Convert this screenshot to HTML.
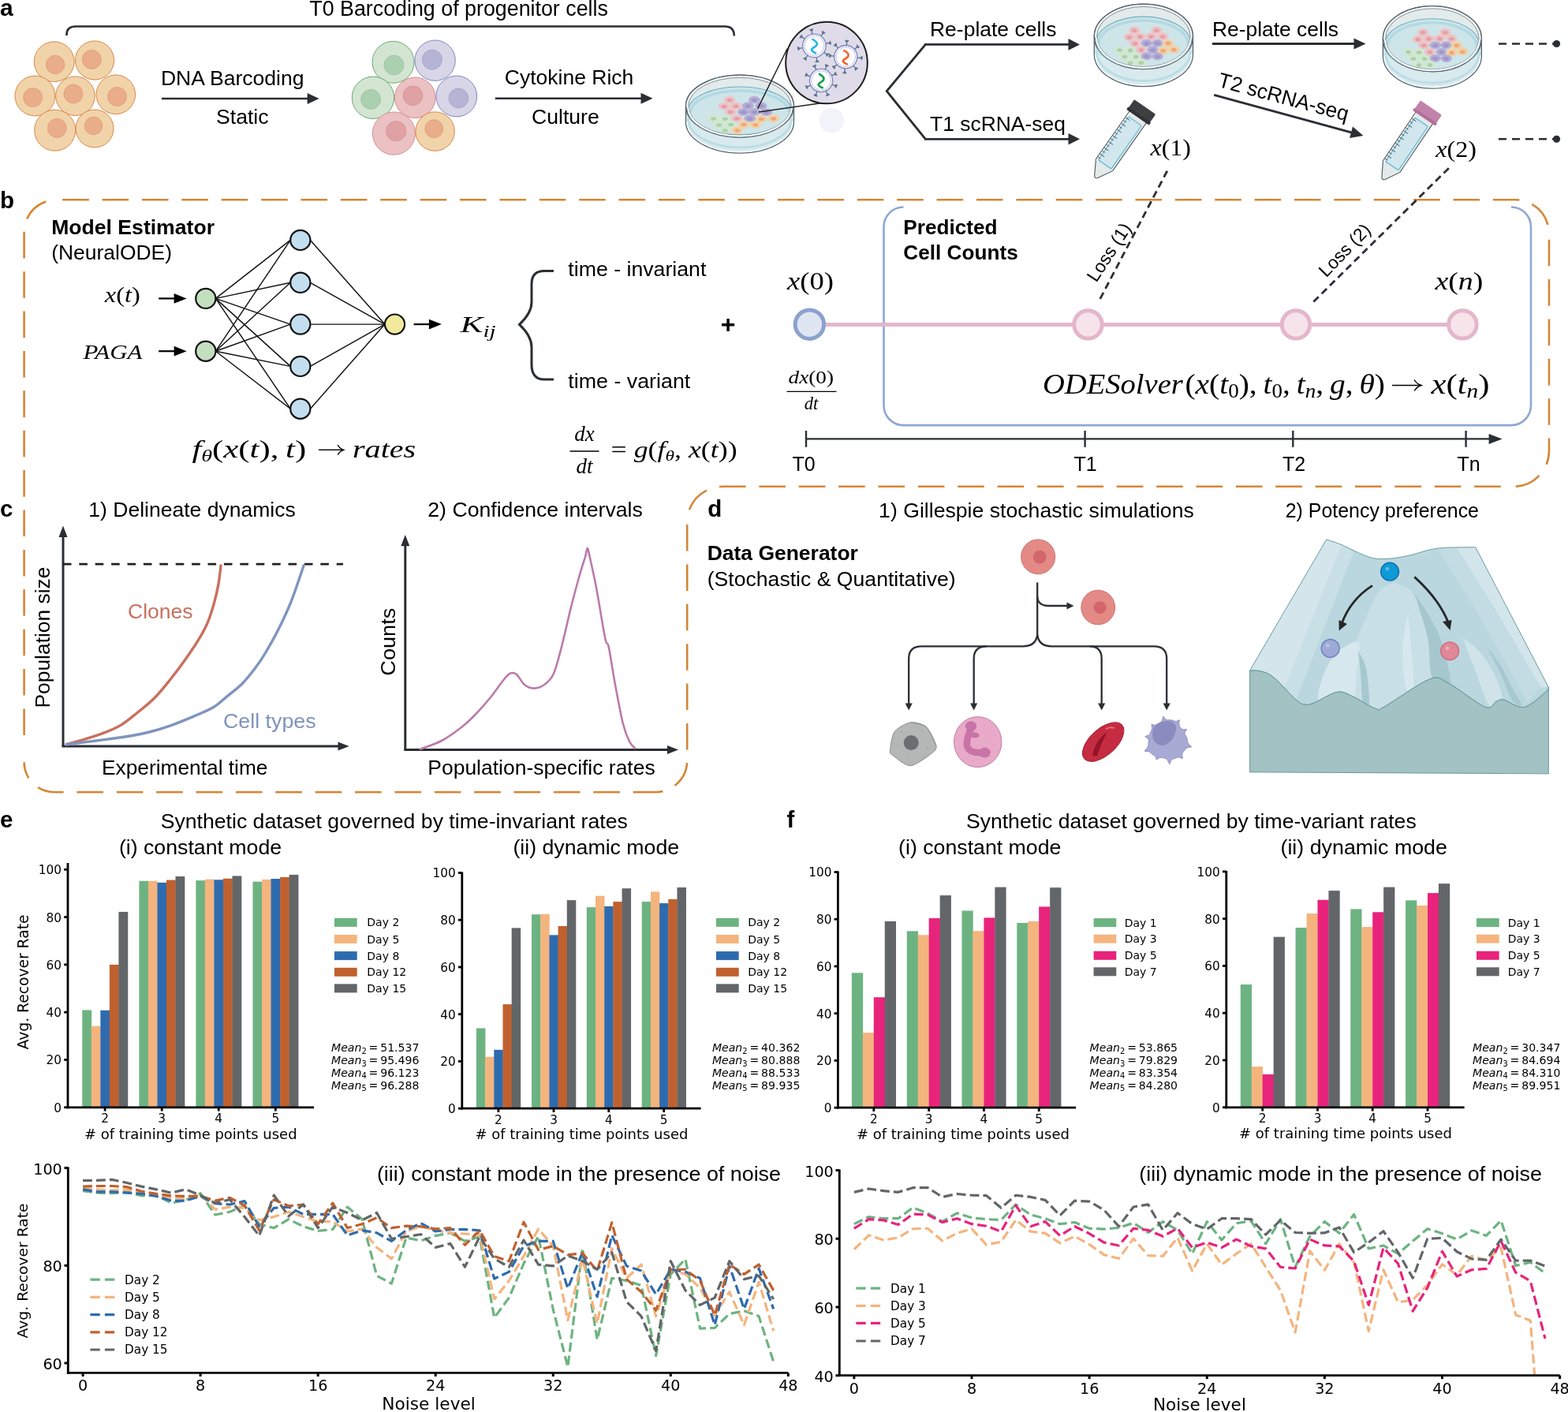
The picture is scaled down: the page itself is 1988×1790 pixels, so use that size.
<!DOCTYPE html>
<html><head><meta charset="utf-8"><title>Figure</title>
<style>html,body{margin:0;padding:0;background:#fff;overflow:hidden}svg{display:block}</style></head>
<body><svg width="1988" height="1790" viewBox="0 0 1988 1790" font-family="'Liberation Sans', Arial, sans-serif">
<rect width="1988" height="1790" fill="#fff"/>
<text x="0" y="19.5" font-size="30" font-weight="bold" >a</text>
<path d="M 84.5 45 L 84.5 44 Q 84.5 33.5 96 33.5 L 919 33.5 Q 930.8 33.5 930.8 45.5" fill="none" stroke="#2b2e33" stroke-width="2.6" />
<text x="392.3" y="20.4" font-size="26.8" textLength="378.6" lengthAdjust="spacingAndGlyphs" >T0 Barcoding of progenitor cells</text>
<circle cx="68.7" cy="78.2" r="25.4" fill="#f1d3aa" stroke="#d7823f" stroke-width="0.95" /><circle cx="70.1" cy="82" r="11.8" fill="#e9ad89" stroke="#e19b78" stroke-width="0.8" />
<circle cx="120" cy="76.5" r="24.6" fill="#f1d3aa" stroke="#d7823f" stroke-width="0.95" /><circle cx="116.4" cy="75.4" r="12" fill="#e9ad89" stroke="#e19b78" stroke-width="0.8" />
<circle cx="44.4" cy="121.5" r="25.4" fill="#f1d3aa" stroke="#d7823f" stroke-width="0.95" /><circle cx="41.6" cy="123.6" r="12" fill="#e9ad89" stroke="#e19b78" stroke-width="0.8" />
<circle cx="95.5" cy="121.7" r="24.8" fill="#f1d3aa" stroke="#d7823f" stroke-width="0.95" /><circle cx="93" cy="119" r="12" fill="#e9ad89" stroke="#e19b78" stroke-width="0.8" />
<circle cx="146.8" cy="119.8" r="24.8" fill="#f1d3aa" stroke="#d7823f" stroke-width="0.95" /><circle cx="148.5" cy="122.5" r="12" fill="#e9ad89" stroke="#e19b78" stroke-width="0.8" />
<circle cx="69.7" cy="165.2" r="26" fill="#f1d3aa" stroke="#d7823f" stroke-width="0.95" /><circle cx="72.3" cy="162.5" r="12" fill="#e9ad89" stroke="#e19b78" stroke-width="0.8" />
<circle cx="120" cy="163" r="24" fill="#f1d3aa" stroke="#d7823f" stroke-width="0.95" /><circle cx="118.5" cy="159.5" r="11.3" fill="#e9ad89" stroke="#e19b78" stroke-width="0.8" />
<text x="203.9" y="108.2" font-size="26.6" textLength="181.7" lengthAdjust="spacingAndGlyphs" >DNA Barcoding</text>
<line x1="205" y1="125" x2="390.6" y2="125" stroke="#2b2e33" stroke-width="2.6" /><polygon points="404.6,125 389.6,118 389.6,132" fill="#2b2e33"/>
<text x="274" y="157.4" font-size="26.6" >Static</text>
<circle cx="498.6" cy="78.8" r="26.5" fill="#d3e5d1" stroke="#5fa76d" stroke-width="0.95" /><circle cx="499.5" cy="82.6" r="12.5" fill="#abd0b0" stroke="#95c4a0" stroke-width="0.8" />
<circle cx="551.6" cy="76.7" r="25.7" fill="#d8d5e7" stroke="#7b80c0" stroke-width="0.95" /><circle cx="547.9" cy="75.6" r="12.6" fill="#b5b4d4" stroke="#a2a2cc" stroke-width="0.8" />
<circle cx="473" cy="123.8" r="26.7" fill="#d3e5d1" stroke="#5fa76d" stroke-width="0.95" /><circle cx="470.1" cy="125.9" r="12.5" fill="#abd0b0" stroke="#95c4a0" stroke-width="0.8" />
<circle cx="526.3" cy="123.8" r="25.8" fill="#ecc1c3" stroke="#d08b8c" stroke-width="0.95" /><circle cx="523.5" cy="121.3" r="12.4" fill="#dfa1a3" stroke="#d39395" stroke-width="0.8" />
<circle cx="578.8" cy="122" r="25.9" fill="#d8d5e7" stroke="#7b80c0" stroke-width="0.95" /><circle cx="581.4" cy="124.5" r="12.4" fill="#b5b4d4" stroke="#a2a2cc" stroke-width="0.8" />
<circle cx="499.4" cy="169.1" r="27.1" fill="#ecc1c3" stroke="#d08b8c" stroke-width="0.95" /><circle cx="502.2" cy="166.1" r="12.7" fill="#dfa1a3" stroke="#d39395" stroke-width="0.8" />
<circle cx="551.6" cy="166.6" r="24.7" fill="#f1d3aa" stroke="#d7823f" stroke-width="0.95" /><circle cx="550.3" cy="163.2" r="11.5" fill="#e9ad89" stroke="#e19b78" stroke-width="0.8" />
<text x="639.8" y="107" font-size="26.6" textLength="163.5" lengthAdjust="spacingAndGlyphs" >Cytokine Rich</text>
<line x1="627.8" y1="124.7" x2="813.5" y2="124.7" stroke="#2b2e33" stroke-width="2.6" /><polygon points="827.5,124.7 812.5,117.7 812.5,131.7" fill="#2b2e33"/>
<text x="674" y="157.4" font-size="26.6" >Culture</text>
<g><path d="M 869.5 134.6 A 68.5 39.5 0 0 1 1006.5 134.6 L 1006.5 154.6 A 68.5 39.5 0 0 1 869.5 154.6 Z" fill="#d8eaed" stroke="#56636c" stroke-width="1.3" /><path d="M 872.5 150.6 A 65.5 36.5 0 0 0 1003.5 150.6" fill="none" stroke="#bcdde6" stroke-width="3" /><path d="M 871 154.6 A 67 38 0 0 0 1005 154.6" fill="none" stroke="#ffffff" stroke-width="1.2" /><ellipse cx="938" cy="134.6" rx="68.5" ry="39.5" fill="#e3eaea" stroke="#56636c" stroke-width="1.3" /><ellipse cx="938" cy="134.6" rx="66.5" ry="37.5" fill="none" stroke="#ffffff" stroke-width="1.6" /><ellipse cx="938" cy="134.6" rx="65.3" ry="36.3" fill="none" stroke="#6a7880" stroke-width="0.8" /><ellipse cx="938" cy="140.5" rx="65.4" ry="30.5" fill="#cde5e9" stroke="#6fb0c6" stroke-width="1.1" /><path d="M 875.6 142.5 A 62.4 27.5 0 0 1 1000.4 142.5" fill="none" stroke="#b4d9e3" stroke-width="3.5" /><ellipse cx="925.02" cy="126.64" rx="7.2" ry="4.4" fill="#efc1c5" stroke="#efc1c5" stroke-width="0.6" /><ellipse cx="925.02" cy="126.94" rx="3.38" ry="2.2" fill="#e2a0a6" stroke="none" stroke-width="1" /><ellipse cx="918.1" cy="134.69" rx="7.2" ry="4.4" fill="#efc1c5" stroke="#efc1c5" stroke-width="0.6" /><ellipse cx="918.1" cy="134.99" rx="3.38" ry="2.2" fill="#e2a0a6" stroke="none" stroke-width="1" /><ellipse cx="932.94" cy="134.44" rx="7.2" ry="4.4" fill="#efc1c5" stroke="#efc1c5" stroke-width="0.6" /><ellipse cx="932.94" cy="134.74" rx="3.38" ry="2.2" fill="#e2a0a6" stroke="none" stroke-width="1" /><ellipse cx="926.27" cy="141.73" rx="7.2" ry="4.4" fill="#efc1c5" stroke="#efc1c5" stroke-width="0.6" /><ellipse cx="926.27" cy="142.03" rx="3.38" ry="2.2" fill="#e2a0a6" stroke="none" stroke-width="1" /><ellipse cx="934.45" cy="150.16" rx="7.2" ry="4.4" fill="#efc1c5" stroke="#efc1c5" stroke-width="0.6" /><ellipse cx="934.45" cy="150.46" rx="3.38" ry="2.2" fill="#e2a0a6" stroke="none" stroke-width="1" /><ellipse cx="956.45" cy="126.64" rx="7.2" ry="4.4" fill="#b5acd5" stroke="#b5acd5" stroke-width="0.6" /><ellipse cx="956.45" cy="126.94" rx="3.38" ry="2.2" fill="#9f97c8" stroke="none" stroke-width="1" /><ellipse cx="948.28" cy="134.19" rx="7.2" ry="4.4" fill="#b5acd5" stroke="#b5acd5" stroke-width="0.6" /><ellipse cx="948.28" cy="134.49" rx="3.38" ry="2.2" fill="#9f97c8" stroke="none" stroke-width="1" /><ellipse cx="965.01" cy="134.19" rx="7.2" ry="4.4" fill="#b5acd5" stroke="#b5acd5" stroke-width="0.6" /><ellipse cx="965.01" cy="134.49" rx="3.38" ry="2.2" fill="#9f97c8" stroke="none" stroke-width="1" /><ellipse cx="942.62" cy="141.98" rx="7.2" ry="4.4" fill="#b5acd5" stroke="#b5acd5" stroke-width="0.6" /><ellipse cx="942.62" cy="142.28" rx="3.38" ry="2.2" fill="#9f97c8" stroke="none" stroke-width="1" /><ellipse cx="956.45" cy="141.98" rx="7.2" ry="4.4" fill="#b5acd5" stroke="#b5acd5" stroke-width="0.6" /><ellipse cx="956.45" cy="142.28" rx="3.38" ry="2.2" fill="#9f97c8" stroke="none" stroke-width="1" /><ellipse cx="971.54" cy="142.23" rx="7.2" ry="4.4" fill="#b5acd5" stroke="#b5acd5" stroke-width="0.6" /><ellipse cx="971.54" cy="142.53" rx="3.38" ry="2.2" fill="#9f97c8" stroke="none" stroke-width="1" /><ellipse cx="950.79" cy="150.16" rx="7.2" ry="4.4" fill="#b5acd5" stroke="#b5acd5" stroke-width="0.6" /><ellipse cx="950.79" cy="150.46" rx="3.38" ry="2.2" fill="#9f97c8" stroke="none" stroke-width="1" /><ellipse cx="904.64" cy="150.16" rx="7.2" ry="4.4" fill="#d2e7d0" stroke="#d2e7d0" stroke-width="0.6" /><ellipse cx="904.64" cy="150.46" rx="3.38" ry="2.2" fill="#a8d2aa" stroke="none" stroke-width="1" /><ellipse cx="919.36" cy="150.53" rx="7.2" ry="4.4" fill="#d2e7d0" stroke="#d2e7d0" stroke-width="0.6" /><ellipse cx="919.36" cy="150.83" rx="3.38" ry="2.2" fill="#a8d2aa" stroke="none" stroke-width="1" /><ellipse cx="911.56" cy="158.08" rx="7.2" ry="4.4" fill="#d2e7d0" stroke="#d2e7d0" stroke-width="0.6" /><ellipse cx="911.56" cy="158.38" rx="3.38" ry="2.2" fill="#a8d2aa" stroke="none" stroke-width="1" /><ellipse cx="926.65" cy="157.7" rx="7.2" ry="4.4" fill="#d2e7d0" stroke="#d2e7d0" stroke-width="0.6" /><ellipse cx="926.65" cy="158" rx="3.38" ry="2.2" fill="#a8d2aa" stroke="none" stroke-width="1" /><ellipse cx="919.36" cy="165.25" rx="7.2" ry="4.4" fill="#d2e7d0" stroke="#d2e7d0" stroke-width="0.6" /><ellipse cx="919.36" cy="165.55" rx="3.38" ry="2.2" fill="#a8d2aa" stroke="none" stroke-width="1" /><ellipse cx="965.38" cy="150.78" rx="7.2" ry="4.4" fill="#f4d0a2" stroke="#f4d0a2" stroke-width="0.6" /><ellipse cx="965.38" cy="151.08" rx="3.38" ry="2.2" fill="#eda77e" stroke="none" stroke-width="1" /><ellipse cx="980.72" cy="150.16" rx="7.2" ry="4.4" fill="#f4d0a2" stroke="#f4d0a2" stroke-width="0.6" /><ellipse cx="980.72" cy="150.46" rx="3.38" ry="2.2" fill="#eda77e" stroke="none" stroke-width="1" /><ellipse cx="943" cy="157.7" rx="7.2" ry="4.4" fill="#f4d0a2" stroke="#f4d0a2" stroke-width="0.6" /><ellipse cx="943" cy="158" rx="3.38" ry="2.2" fill="#eda77e" stroke="none" stroke-width="1" /><ellipse cx="957.71" cy="158.08" rx="7.2" ry="4.4" fill="#f4d0a2" stroke="#f4d0a2" stroke-width="0.6" /><ellipse cx="957.71" cy="158.38" rx="3.38" ry="2.2" fill="#eda77e" stroke="none" stroke-width="1" /><ellipse cx="934.82" cy="165.25" rx="7.2" ry="4.4" fill="#f4d0a2" stroke="#f4d0a2" stroke-width="0.6" /><ellipse cx="934.82" cy="165.55" rx="3.38" ry="2.2" fill="#eda77e" stroke="none" stroke-width="1" /><path d="M 872 135.6 A 66 37 0 0 0 1004 135.6" fill="none" stroke="#ffffff" stroke-width="2.6" /><path d="M 870.5 135.6 A 67.5 38.5 0 0 0 1005.5 135.6" fill="none" stroke="#5d6b74" stroke-width="0.9" /><path d="M 873.5 135.6 A 64.5 35.5 0 0 0 1002.5 135.6" fill="none" stroke="#7d8f98" stroke-width="0.7" /></g>
<circle cx="1054.3" cy="152.7" r="15.7" fill="#f2f3f9" stroke="none" stroke-width="1" />
<line x1="998.3" y1="61.5" x2="960.6" y2="137.6" stroke="#222" stroke-width="1.5" />
<line x1="1046.1" y1="130" x2="961.9" y2="142" stroke="#222" stroke-width="1.5" />
<circle cx="1048" cy="79.5" r="51.8" fill="#e0dbe9" stroke="#1d1d1d" stroke-width="2" />
<line x1="1029.76" y1="43.34" x2="1029.19" y2="40.19" stroke="#56708f" stroke-width="1.3" /><polygon points="1029.19,40.19 1030.9,36.73 1026.38,37.55" fill="#56708f" stroke="#56708f" stroke-width="0.8" stroke-linejoin="round"/><line x1="1040.83" y1="45.74" x2="1042.66" y2="43.11" stroke="#56708f" stroke-width="1.3" /><polygon points="1042.66,43.11 1046.31,41.87 1042.53,39.25" fill="#56708f" stroke="#56708f" stroke-width="0.8" stroke-linejoin="round"/><line x1="1046.96" y1="55.26" x2="1050.11" y2="54.69" stroke="#56708f" stroke-width="1.3" /><polygon points="1050.11,54.69 1053.57,56.4 1052.75,51.88" fill="#56708f" stroke="#56708f" stroke-width="0.8" stroke-linejoin="round"/><line x1="1044.56" y1="66.33" x2="1047.19" y2="68.16" stroke="#56708f" stroke-width="1.3" /><polygon points="1047.19,68.16 1048.43,71.81 1051.05,68.03" fill="#56708f" stroke="#56708f" stroke-width="0.8" stroke-linejoin="round"/><line x1="1035.04" y1="72.46" x2="1035.61" y2="75.61" stroke="#56708f" stroke-width="1.3" /><polygon points="1035.61,75.61 1033.9,79.07 1038.42,78.25" fill="#56708f" stroke="#56708f" stroke-width="0.8" stroke-linejoin="round"/><line x1="1023.97" y1="70.06" x2="1022.14" y2="72.69" stroke="#56708f" stroke-width="1.3" /><polygon points="1022.14,72.69 1018.49,73.93 1022.27,76.55" fill="#56708f" stroke="#56708f" stroke-width="0.8" stroke-linejoin="round"/><line x1="1017.84" y1="60.54" x2="1014.69" y2="61.11" stroke="#56708f" stroke-width="1.3" /><polygon points="1014.69,61.11 1011.23,59.4 1012.05,63.92" fill="#56708f" stroke="#56708f" stroke-width="0.8" stroke-linejoin="round"/><line x1="1020.24" y1="49.47" x2="1017.61" y2="47.64" stroke="#56708f" stroke-width="1.3" /><polygon points="1017.61,47.64 1016.37,43.99 1013.75,47.77" fill="#56708f" stroke="#56708f" stroke-width="0.8" stroke-linejoin="round"/><circle cx="1032.4" cy="57.9" r="14.8" fill="#ffffff" stroke="#7c83bf" stroke-width="1.3" /><circle cx="1032.4" cy="57.9" r="12.4" fill="none" stroke="#8189c4" stroke-width="0.9" stroke-dasharray="1.6 1"/><path d="M -3 -8.5 C 1 -6.5 4.2 -4 3.2 -1 C 2.2 2 -4.8 3 -3.2 6 C -2.2 8 1 9 2.6 9.8" transform="translate(1032.4 57.9)" fill="none" stroke="#29b6e8" stroke-width="2.7" stroke-linecap="butt"/>
<line x1="1073.33" y1="57.54" x2="1073.56" y2="54.34" stroke="#56708f" stroke-width="1.3" /><polygon points="1073.56,54.34 1076.07,51.42 1071.48,51.09" fill="#56708f" stroke="#56708f" stroke-width="0.8" stroke-linejoin="round"/><line x1="1083.33" y1="62.53" x2="1085.75" y2="60.44" stroke="#56708f" stroke-width="1.3" /><polygon points="1085.75,60.44 1089.59,60.14 1086.58,56.67" fill="#56708f" stroke="#56708f" stroke-width="0.8" stroke-linejoin="round"/><line x1="1086.86" y1="73.13" x2="1090.06" y2="73.36" stroke="#56708f" stroke-width="1.3" /><polygon points="1090.06,73.36 1092.98,75.87 1093.31,71.28" fill="#56708f" stroke="#56708f" stroke-width="0.8" stroke-linejoin="round"/><line x1="1081.87" y1="83.13" x2="1083.96" y2="85.55" stroke="#56708f" stroke-width="1.3" /><polygon points="1083.96,85.55 1084.26,89.39 1087.73,86.38" fill="#56708f" stroke="#56708f" stroke-width="0.8" stroke-linejoin="round"/><line x1="1071.27" y1="86.66" x2="1071.04" y2="89.86" stroke="#56708f" stroke-width="1.3" /><polygon points="1071.04,89.86 1068.53,92.78 1073.12,93.11" fill="#56708f" stroke="#56708f" stroke-width="0.8" stroke-linejoin="round"/><line x1="1061.27" y1="81.67" x2="1058.85" y2="83.76" stroke="#56708f" stroke-width="1.3" /><polygon points="1058.85,83.76 1055.01,84.06 1058.02,87.53" fill="#56708f" stroke="#56708f" stroke-width="0.8" stroke-linejoin="round"/><line x1="1057.74" y1="71.07" x2="1054.54" y2="70.84" stroke="#56708f" stroke-width="1.3" /><polygon points="1054.54,70.84 1051.62,68.33 1051.29,72.92" fill="#56708f" stroke="#56708f" stroke-width="0.8" stroke-linejoin="round"/><line x1="1062.73" y1="61.07" x2="1060.64" y2="58.65" stroke="#56708f" stroke-width="1.3" /><polygon points="1060.64,58.65 1060.34,54.81 1056.87,57.82" fill="#56708f" stroke="#56708f" stroke-width="0.8" stroke-linejoin="round"/><circle cx="1072.3" cy="72.1" r="14.6" fill="#ffffff" stroke="#7c83bf" stroke-width="1.3" /><circle cx="1072.3" cy="72.1" r="12.2" fill="none" stroke="#8189c4" stroke-width="0.9" stroke-dasharray="1.6 1"/><path d="M -3 -8.5 C 1 -6.5 4.2 -4 3.2 -1 C 2.2 2 -4.8 3 -3.2 6 C -2.2 8 1 9 2.6 9.8" transform="translate(1072.3 72.1)" fill="none" stroke="#f0642a" stroke-width="2.7" stroke-linecap="butt"/>
<line x1="1035.02" y1="88.72" x2="1033.69" y2="85.81" stroke="#56708f" stroke-width="1.3" /><polygon points="1033.69,85.81 1034.49,82.04 1030.31,83.95" fill="#56708f" stroke="#56708f" stroke-width="0.8" stroke-linejoin="round"/><line x1="1046.19" y1="88.32" x2="1047.31" y2="85.32" stroke="#56708f" stroke-width="1.3" /><polygon points="1047.31,85.32 1050.54,83.21 1046.23,81.61" fill="#56708f" stroke="#56708f" stroke-width="0.8" stroke-linejoin="round"/><line x1="1054.38" y1="95.92" x2="1057.29" y2="94.59" stroke="#56708f" stroke-width="1.3" /><polygon points="1057.29,94.59 1061.06,95.39 1059.15,91.21" fill="#56708f" stroke="#56708f" stroke-width="0.8" stroke-linejoin="round"/><line x1="1054.78" y1="107.09" x2="1057.78" y2="108.21" stroke="#56708f" stroke-width="1.3" /><polygon points="1057.78,108.21 1059.89,111.44 1061.49,107.13" fill="#56708f" stroke="#56708f" stroke-width="0.8" stroke-linejoin="round"/><line x1="1047.18" y1="115.28" x2="1048.51" y2="118.19" stroke="#56708f" stroke-width="1.3" /><polygon points="1048.51,118.19 1047.71,121.96 1051.89,120.05" fill="#56708f" stroke="#56708f" stroke-width="0.8" stroke-linejoin="round"/><line x1="1036.01" y1="115.68" x2="1034.89" y2="118.68" stroke="#56708f" stroke-width="1.3" /><polygon points="1034.89,118.68 1031.66,120.79 1035.97,122.39" fill="#56708f" stroke="#56708f" stroke-width="0.8" stroke-linejoin="round"/><line x1="1027.82" y1="108.08" x2="1024.91" y2="109.41" stroke="#56708f" stroke-width="1.3" /><polygon points="1024.91,109.41 1021.14,108.61 1023.05,112.79" fill="#56708f" stroke="#56708f" stroke-width="0.8" stroke-linejoin="round"/><line x1="1027.42" y1="96.91" x2="1024.42" y2="95.79" stroke="#56708f" stroke-width="1.3" /><polygon points="1024.42,95.79 1022.31,92.56 1020.71,96.87" fill="#56708f" stroke="#56708f" stroke-width="0.8" stroke-linejoin="round"/><circle cx="1041.1" cy="102" r="14.6" fill="#ffffff" stroke="#7c83bf" stroke-width="1.3" /><circle cx="1041.1" cy="102" r="12.2" fill="none" stroke="#8189c4" stroke-width="0.9" stroke-dasharray="1.6 1"/><path d="M -3 -8.5 C 1 -6.5 4.2 -4 3.2 -1 C 2.2 2 -4.8 3 -3.2 6 C -2.2 8 1 9 2.6 9.8" transform="translate(1041.1 102)" fill="none" stroke="#139f4f" stroke-width="2.7" stroke-linecap="butt"/>
<path d="M 1173.4 56.4 L 1124.2 115.5 L 1173.4 176.3" fill="none" stroke="#2b2e33" stroke-width="2.8" stroke-linejoin="miter"/>
<line x1="1172" y1="56.4" x2="1355.5" y2="56.4" stroke="#2b2e33" stroke-width="2.8" /><polygon points="1369,56.4 1354.5,49.1 1354.5,63.7" fill="#2b2e33"/>
<line x1="1172" y1="176.3" x2="1355.5" y2="176.3" stroke="#2b2e33" stroke-width="2.8" /><polygon points="1369,176.3 1354.5,169 1354.5,183.6" fill="#2b2e33"/>
<text x="1179" y="45.8" font-size="26.5" textLength="160.4" lengthAdjust="spacingAndGlyphs" >Re-plate cells</text>
<text x="1179" y="166" font-size="26.5" textLength="171.9" lengthAdjust="spacingAndGlyphs" >T1 scRNA-seq</text>
<g><path d="M 1387.3 46.4 A 62.6 41.2 0 0 1 1512.5 46.4 L 1512.5 68.4 A 62.6 41.2 0 0 1 1387.3 68.4 Z" fill="#d8eaed" stroke="#56636c" stroke-width="1.3" /><path d="M 1390.3 64.4 A 59.6 38.2 0 0 0 1509.5 64.4" fill="none" stroke="#bcdde6" stroke-width="3" /><path d="M 1388.8 68.4 A 61.1 39.7 0 0 0 1511 68.4" fill="none" stroke="#ffffff" stroke-width="1.2" /><ellipse cx="1449.9" cy="46.4" rx="62.6" ry="41.2" fill="#e3eaea" stroke="#56636c" stroke-width="1.3" /><ellipse cx="1449.9" cy="46.4" rx="60.6" ry="39.2" fill="none" stroke="#ffffff" stroke-width="1.6" /><ellipse cx="1449.9" cy="46.4" rx="59.4" ry="38" fill="none" stroke="#6a7880" stroke-width="0.8" /><ellipse cx="1449.6" cy="53.8" rx="59.5" ry="32.7" fill="#cde5e9" stroke="#6fb0c6" stroke-width="1.1" /><path d="M 1393.1 55.8 A 56.5 29.7 0 0 1 1506.1 55.8" fill="none" stroke="#b4d9e3" stroke-width="3.5" /><ellipse cx="1438.01" cy="38.47" rx="6.9" ry="4.6" fill="#efc1c5" stroke="#efc1c5" stroke-width="0.6" /><ellipse cx="1438.01" cy="38.77" rx="3.24" ry="2.3" fill="#e2a0a6" stroke="none" stroke-width="1" /><ellipse cx="1466.34" cy="38.47" rx="6.9" ry="4.6" fill="#efc1c5" stroke="#efc1c5" stroke-width="0.6" /><ellipse cx="1466.34" cy="38.77" rx="3.24" ry="2.3" fill="#e2a0a6" stroke="none" stroke-width="1" /><ellipse cx="1431.73" cy="47.08" rx="6.9" ry="4.6" fill="#efc1c5" stroke="#efc1c5" stroke-width="0.6" /><ellipse cx="1431.73" cy="47.38" rx="3.24" ry="2.3" fill="#e2a0a6" stroke="none" stroke-width="1" /><ellipse cx="1445.49" cy="46.52" rx="6.9" ry="4.6" fill="#efc1c5" stroke="#efc1c5" stroke-width="0.6" /><ellipse cx="1445.49" cy="46.82" rx="3.24" ry="2.3" fill="#e2a0a6" stroke="none" stroke-width="1" /><ellipse cx="1459.34" cy="46.28" rx="6.9" ry="4.6" fill="#efc1c5" stroke="#efc1c5" stroke-width="0.6" /><ellipse cx="1459.34" cy="46.58" rx="3.24" ry="2.3" fill="#e2a0a6" stroke="none" stroke-width="1" /><ellipse cx="1474.23" cy="46.28" rx="6.9" ry="4.6" fill="#efc1c5" stroke="#efc1c5" stroke-width="0.6" /><ellipse cx="1474.23" cy="46.58" rx="3.24" ry="2.3" fill="#e2a0a6" stroke="none" stroke-width="1" /><ellipse cx="1439.22" cy="54.89" rx="6.9" ry="4.6" fill="#efc1c5" stroke="#efc1c5" stroke-width="0.6" /><ellipse cx="1439.22" cy="55.19" rx="3.24" ry="2.3" fill="#e2a0a6" stroke="none" stroke-width="1" /><ellipse cx="1453.7" cy="54.73" rx="6.9" ry="4.6" fill="#b5acd5" stroke="#b5acd5" stroke-width="0.6" /><ellipse cx="1453.7" cy="55.03" rx="3.24" ry="2.3" fill="#9f97c8" stroke="none" stroke-width="1" /><ellipse cx="1467.38" cy="54.73" rx="6.9" ry="4.6" fill="#b5acd5" stroke="#b5acd5" stroke-width="0.6" /><ellipse cx="1467.38" cy="55.03" rx="3.24" ry="2.3" fill="#9f97c8" stroke="none" stroke-width="1" /><ellipse cx="1480.91" cy="54.73" rx="6.9" ry="4.6" fill="#f4d0a2" stroke="#f4d0a2" stroke-width="0.6" /><ellipse cx="1480.91" cy="55.03" rx="3.24" ry="2.3" fill="#eda77e" stroke="none" stroke-width="1" /><ellipse cx="1419.66" cy="63.18" rx="6.9" ry="4.6" fill="#d2e7d0" stroke="#d2e7d0" stroke-width="0.6" /><ellipse cx="1419.66" cy="63.48" rx="3.24" ry="2.3" fill="#a8d2aa" stroke="none" stroke-width="1" /><ellipse cx="1433.18" cy="63.58" rx="6.9" ry="4.6" fill="#d2e7d0" stroke="#d2e7d0" stroke-width="0.6" /><ellipse cx="1433.18" cy="63.88" rx="3.24" ry="2.3" fill="#a8d2aa" stroke="none" stroke-width="1" /><ellipse cx="1446.86" cy="63.18" rx="6.9" ry="4.6" fill="#efc1c5" stroke="#efc1c5" stroke-width="0.6" /><ellipse cx="1446.86" cy="63.48" rx="3.24" ry="2.3" fill="#e2a0a6" stroke="none" stroke-width="1" /><ellipse cx="1461.75" cy="63.18" rx="6.9" ry="4.6" fill="#b5acd5" stroke="#b5acd5" stroke-width="0.6" /><ellipse cx="1461.75" cy="63.48" rx="3.24" ry="2.3" fill="#9f97c8" stroke="none" stroke-width="1" /><ellipse cx="1474.63" cy="63.98" rx="6.9" ry="4.6" fill="#f4d0a2" stroke="#f4d0a2" stroke-width="0.6" /><ellipse cx="1474.63" cy="64.28" rx="3.24" ry="2.3" fill="#eda77e" stroke="none" stroke-width="1" /><ellipse cx="1488.31" cy="62.78" rx="6.9" ry="4.6" fill="#f4d0a2" stroke="#f4d0a2" stroke-width="0.6" /><ellipse cx="1488.31" cy="63.08" rx="3.24" ry="2.3" fill="#eda77e" stroke="none" stroke-width="1" /><ellipse cx="1425.94" cy="71.63" rx="6.9" ry="4.6" fill="#d2e7d0" stroke="#d2e7d0" stroke-width="0.6" /><ellipse cx="1425.94" cy="71.93" rx="3.24" ry="2.3" fill="#a8d2aa" stroke="none" stroke-width="1" /><ellipse cx="1440.26" cy="71.63" rx="6.9" ry="4.6" fill="#d2e7d0" stroke="#d2e7d0" stroke-width="0.6" /><ellipse cx="1440.26" cy="71.93" rx="3.24" ry="2.3" fill="#a8d2aa" stroke="none" stroke-width="1" /><ellipse cx="1453.7" cy="71.23" rx="6.9" ry="4.6" fill="#b5acd5" stroke="#b5acd5" stroke-width="0.6" /><ellipse cx="1453.7" cy="71.53" rx="3.24" ry="2.3" fill="#9f97c8" stroke="none" stroke-width="1" /><ellipse cx="1467.63" cy="71.47" rx="6.9" ry="4.6" fill="#b5acd5" stroke="#b5acd5" stroke-width="0.6" /><ellipse cx="1467.63" cy="71.77" rx="3.24" ry="2.3" fill="#9f97c8" stroke="none" stroke-width="1" /><ellipse cx="1433.02" cy="79.68" rx="6.9" ry="4.6" fill="#d2e7d0" stroke="#d2e7d0" stroke-width="0.6" /><ellipse cx="1433.02" cy="79.98" rx="3.24" ry="2.3" fill="#a8d2aa" stroke="none" stroke-width="1" /><ellipse cx="1446.86" cy="79.28" rx="6.9" ry="4.6" fill="#d2e7d0" stroke="#d2e7d0" stroke-width="0.6" /><ellipse cx="1446.86" cy="79.58" rx="3.24" ry="2.3" fill="#a8d2aa" stroke="none" stroke-width="1" /><path d="M 1389.8 47.4 A 60.1 38.7 0 0 0 1510 47.4" fill="none" stroke="#ffffff" stroke-width="2.6" /><path d="M 1388.3 47.4 A 61.6 40.2 0 0 0 1511.5 47.4" fill="none" stroke="#5d6b74" stroke-width="0.9" /><path d="M 1391.3 47.4 A 58.6 37.2 0 0 0 1508.5 47.4" fill="none" stroke="#7d8f98" stroke-width="0.7" /></g>
<g><path d="M 1753.4 49.2 A 62.5 41.6 0 0 1 1878.4 49.2 L 1878.4 70.6 A 62.5 41.6 0 0 1 1753.4 70.6 Z" fill="#d8eaed" stroke="#56636c" stroke-width="1.3" /><path d="M 1756.4 66.6 A 59.5 38.6 0 0 0 1875.4 66.6" fill="none" stroke="#bcdde6" stroke-width="3" /><path d="M 1754.9 70.6 A 61 40.1 0 0 0 1876.9 70.6" fill="none" stroke="#ffffff" stroke-width="1.2" /><ellipse cx="1815.9" cy="49.2" rx="62.5" ry="41.6" fill="#e3eaea" stroke="#56636c" stroke-width="1.3" /><ellipse cx="1815.9" cy="49.2" rx="60.5" ry="39.6" fill="none" stroke="#ffffff" stroke-width="1.6" /><ellipse cx="1815.9" cy="49.2" rx="59.3" ry="38.4" fill="none" stroke="#6a7880" stroke-width="0.8" /><ellipse cx="1815.6" cy="56.4" rx="59.5" ry="32.7" fill="#cde5e9" stroke="#6fb0c6" stroke-width="1.1" /><path d="M 1759.1 58.4 A 56.5 29.7 0 0 1 1872.1 58.4" fill="none" stroke="#b4d9e3" stroke-width="3.5" /><ellipse cx="1804.01" cy="41.07" rx="6.9" ry="4.6" fill="#efc1c5" stroke="#efc1c5" stroke-width="0.6" /><ellipse cx="1804.01" cy="41.37" rx="3.24" ry="2.3" fill="#e2a0a6" stroke="none" stroke-width="1" /><ellipse cx="1832.34" cy="41.07" rx="6.9" ry="4.6" fill="#efc1c5" stroke="#efc1c5" stroke-width="0.6" /><ellipse cx="1832.34" cy="41.37" rx="3.24" ry="2.3" fill="#e2a0a6" stroke="none" stroke-width="1" /><ellipse cx="1797.73" cy="49.68" rx="6.9" ry="4.6" fill="#efc1c5" stroke="#efc1c5" stroke-width="0.6" /><ellipse cx="1797.73" cy="49.98" rx="3.24" ry="2.3" fill="#e2a0a6" stroke="none" stroke-width="1" /><ellipse cx="1811.49" cy="49.12" rx="6.9" ry="4.6" fill="#efc1c5" stroke="#efc1c5" stroke-width="0.6" /><ellipse cx="1811.49" cy="49.42" rx="3.24" ry="2.3" fill="#e2a0a6" stroke="none" stroke-width="1" /><ellipse cx="1825.34" cy="48.88" rx="6.9" ry="4.6" fill="#efc1c5" stroke="#efc1c5" stroke-width="0.6" /><ellipse cx="1825.34" cy="49.18" rx="3.24" ry="2.3" fill="#e2a0a6" stroke="none" stroke-width="1" /><ellipse cx="1840.23" cy="48.88" rx="6.9" ry="4.6" fill="#efc1c5" stroke="#efc1c5" stroke-width="0.6" /><ellipse cx="1840.23" cy="49.18" rx="3.24" ry="2.3" fill="#e2a0a6" stroke="none" stroke-width="1" /><ellipse cx="1805.22" cy="57.49" rx="6.9" ry="4.6" fill="#efc1c5" stroke="#efc1c5" stroke-width="0.6" /><ellipse cx="1805.22" cy="57.79" rx="3.24" ry="2.3" fill="#e2a0a6" stroke="none" stroke-width="1" /><ellipse cx="1819.7" cy="57.33" rx="6.9" ry="4.6" fill="#b5acd5" stroke="#b5acd5" stroke-width="0.6" /><ellipse cx="1819.7" cy="57.63" rx="3.24" ry="2.3" fill="#9f97c8" stroke="none" stroke-width="1" /><ellipse cx="1833.38" cy="57.33" rx="6.9" ry="4.6" fill="#b5acd5" stroke="#b5acd5" stroke-width="0.6" /><ellipse cx="1833.38" cy="57.63" rx="3.24" ry="2.3" fill="#9f97c8" stroke="none" stroke-width="1" /><ellipse cx="1846.91" cy="57.33" rx="6.9" ry="4.6" fill="#f4d0a2" stroke="#f4d0a2" stroke-width="0.6" /><ellipse cx="1846.91" cy="57.63" rx="3.24" ry="2.3" fill="#eda77e" stroke="none" stroke-width="1" /><ellipse cx="1785.66" cy="65.78" rx="6.9" ry="4.6" fill="#d2e7d0" stroke="#d2e7d0" stroke-width="0.6" /><ellipse cx="1785.66" cy="66.08" rx="3.24" ry="2.3" fill="#a8d2aa" stroke="none" stroke-width="1" /><ellipse cx="1799.18" cy="66.18" rx="6.9" ry="4.6" fill="#d2e7d0" stroke="#d2e7d0" stroke-width="0.6" /><ellipse cx="1799.18" cy="66.48" rx="3.24" ry="2.3" fill="#a8d2aa" stroke="none" stroke-width="1" /><ellipse cx="1812.86" cy="65.78" rx="6.9" ry="4.6" fill="#efc1c5" stroke="#efc1c5" stroke-width="0.6" /><ellipse cx="1812.86" cy="66.08" rx="3.24" ry="2.3" fill="#e2a0a6" stroke="none" stroke-width="1" /><ellipse cx="1827.75" cy="65.78" rx="6.9" ry="4.6" fill="#b5acd5" stroke="#b5acd5" stroke-width="0.6" /><ellipse cx="1827.75" cy="66.08" rx="3.24" ry="2.3" fill="#9f97c8" stroke="none" stroke-width="1" /><ellipse cx="1840.63" cy="66.58" rx="6.9" ry="4.6" fill="#f4d0a2" stroke="#f4d0a2" stroke-width="0.6" /><ellipse cx="1840.63" cy="66.88" rx="3.24" ry="2.3" fill="#eda77e" stroke="none" stroke-width="1" /><ellipse cx="1854.31" cy="65.38" rx="6.9" ry="4.6" fill="#f4d0a2" stroke="#f4d0a2" stroke-width="0.6" /><ellipse cx="1854.31" cy="65.68" rx="3.24" ry="2.3" fill="#eda77e" stroke="none" stroke-width="1" /><ellipse cx="1791.94" cy="74.23" rx="6.9" ry="4.6" fill="#d2e7d0" stroke="#d2e7d0" stroke-width="0.6" /><ellipse cx="1791.94" cy="74.53" rx="3.24" ry="2.3" fill="#a8d2aa" stroke="none" stroke-width="1" /><ellipse cx="1806.26" cy="74.23" rx="6.9" ry="4.6" fill="#d2e7d0" stroke="#d2e7d0" stroke-width="0.6" /><ellipse cx="1806.26" cy="74.53" rx="3.24" ry="2.3" fill="#a8d2aa" stroke="none" stroke-width="1" /><ellipse cx="1819.7" cy="73.83" rx="6.9" ry="4.6" fill="#b5acd5" stroke="#b5acd5" stroke-width="0.6" /><ellipse cx="1819.7" cy="74.13" rx="3.24" ry="2.3" fill="#9f97c8" stroke="none" stroke-width="1" /><ellipse cx="1833.63" cy="74.07" rx="6.9" ry="4.6" fill="#b5acd5" stroke="#b5acd5" stroke-width="0.6" /><ellipse cx="1833.63" cy="74.37" rx="3.24" ry="2.3" fill="#9f97c8" stroke="none" stroke-width="1" /><ellipse cx="1799.02" cy="82.28" rx="6.9" ry="4.6" fill="#d2e7d0" stroke="#d2e7d0" stroke-width="0.6" /><ellipse cx="1799.02" cy="82.58" rx="3.24" ry="2.3" fill="#a8d2aa" stroke="none" stroke-width="1" /><ellipse cx="1812.86" cy="81.88" rx="6.9" ry="4.6" fill="#d2e7d0" stroke="#d2e7d0" stroke-width="0.6" /><ellipse cx="1812.86" cy="82.18" rx="3.24" ry="2.3" fill="#a8d2aa" stroke="none" stroke-width="1" /><path d="M 1755.9 50.2 A 60 39.1 0 0 0 1875.9 50.2" fill="none" stroke="#ffffff" stroke-width="2.6" /><path d="M 1754.4 50.2 A 61.5 40.6 0 0 0 1877.4 50.2" fill="none" stroke="#5d6b74" stroke-width="0.9" /><path d="M 1757.4 50.2 A 58.5 37.6 0 0 0 1874.4 50.2" fill="none" stroke="#7d8f98" stroke-width="0.7" /></g>
<text x="1536.9" y="45.8" font-size="26.5" textLength="160.1" lengthAdjust="spacingAndGlyphs" >Re-plate cells</text>
<line x1="1537" y1="55.5" x2="1717.5" y2="55.5" stroke="#2b2e33" stroke-width="2.8" /><polygon points="1731.5,55.5 1716.5,48.5 1716.5,62.5" fill="#2b2e33"/>
<line x1="1900" y1="55.5" x2="1970" y2="55.5" stroke="#2b2e33" stroke-width="2.6" stroke-dasharray="10 7"/>
<circle cx="1973.5" cy="55.5" r="4.6" fill="#2b2e33" stroke="none" stroke-width="1" />
<line x1="1900" y1="176.3" x2="1970" y2="176.3" stroke="#2b2e33" stroke-width="2.6" stroke-dasharray="10 7"/>
<circle cx="1973.5" cy="176.3" r="4.6" fill="#2b2e33" stroke="none" stroke-width="1" />
<line x1="1539.2" y1="120.3" x2="1714.03" y2="168.05" stroke="#2b2e33" stroke-width="2.8" /><polygon points="1728.5,172 1711.09,175.02 1715.04,160.55" fill="#2b2e33"/>
<text x="0" y="0" font-size="26.5" transform="translate(1543 109.5) rotate(15)" textLength="170" lengthAdjust="spacingAndGlyphs">T2 scRNA-seq</text>
<g transform="translate(1451.7 135.5) rotate(35)"><path d="M -13 13 L -13 90 L -2.6 108 Q 0 111.5 2.6 108 L 13 90 L 13 13 Z" fill="#e4e9e9" stroke="#4f5a60" stroke-width="1.1" /><path d="M -11.6 15 L -11.6 91" fill="none" stroke="#ffffff" stroke-width="1" /><rect x="-10" y="22" width="20" height="67" rx="1.5" fill="#d2e6ee" stroke="#4fb3d3" stroke-width="1"/><line x1="-12.5" y1="25" x2="-6" y2="25" stroke="#3a4348" stroke-width="0.8" /><line x1="-12.5" y1="29.7" x2="-8.5" y2="29.7" stroke="#3a4348" stroke-width="0.8" /><line x1="-12.5" y1="34.4" x2="-6" y2="34.4" stroke="#3a4348" stroke-width="0.8" /><line x1="-12.5" y1="39.1" x2="-8.5" y2="39.1" stroke="#3a4348" stroke-width="0.8" /><line x1="-12.5" y1="43.8" x2="-6" y2="43.8" stroke="#3a4348" stroke-width="0.8" /><line x1="-12.5" y1="48.5" x2="-8.5" y2="48.5" stroke="#3a4348" stroke-width="0.8" /><line x1="-12.5" y1="53.2" x2="-6" y2="53.2" stroke="#3a4348" stroke-width="0.8" /><line x1="-12.5" y1="57.9" x2="-8.5" y2="57.9" stroke="#3a4348" stroke-width="0.8" /><line x1="-12.5" y1="62.6" x2="-6" y2="62.6" stroke="#3a4348" stroke-width="0.8" /><line x1="-12.5" y1="67.3" x2="-8.5" y2="67.3" stroke="#3a4348" stroke-width="0.8" /><line x1="-12.5" y1="72" x2="-6" y2="72" stroke="#3a4348" stroke-width="0.8" /><line x1="-12.5" y1="76.7" x2="-8.5" y2="76.7" stroke="#3a4348" stroke-width="0.8" /><line x1="-12.5" y1="81.4" x2="-6" y2="81.4" stroke="#3a4348" stroke-width="0.8" /><line x1="-12.5" y1="86.1" x2="-8.5" y2="86.1" stroke="#3a4348" stroke-width="0.8" /><rect x="-16.5" y="0" width="33" height="16" rx="1.5" fill="#3e4245"/><rect x="-17.5" y="12" width="35" height="4" rx="1" fill="#2f3336"/><line x1="-14" y1="1.5" x2="-14" y2="11" stroke="#2f3336" stroke-width="0.7" opacity="0.6"/><line x1="-10.9" y1="1.5" x2="-10.9" y2="11" stroke="#2f3336" stroke-width="0.7" opacity="0.6"/><line x1="-7.8" y1="1.5" x2="-7.8" y2="11" stroke="#2f3336" stroke-width="0.7" opacity="0.6"/><line x1="-4.7" y1="1.5" x2="-4.7" y2="11" stroke="#2f3336" stroke-width="0.7" opacity="0.6"/><line x1="-1.6" y1="1.5" x2="-1.6" y2="11" stroke="#2f3336" stroke-width="0.7" opacity="0.6"/><line x1="1.5" y1="1.5" x2="1.5" y2="11" stroke="#2f3336" stroke-width="0.7" opacity="0.6"/><line x1="4.6" y1="1.5" x2="4.6" y2="11" stroke="#2f3336" stroke-width="0.7" opacity="0.6"/><line x1="7.7" y1="1.5" x2="7.7" y2="11" stroke="#2f3336" stroke-width="0.7" opacity="0.6"/><line x1="10.8" y1="1.5" x2="10.8" y2="11" stroke="#2f3336" stroke-width="0.7" opacity="0.6"/><line x1="13.9" y1="1.5" x2="13.9" y2="11" stroke="#2f3336" stroke-width="0.7" opacity="0.6"/></g>
<g transform="translate(1814.5 136.5) rotate(34)"><path d="M -13 13 L -13 90 L -2.6 108 Q 0 111.5 2.6 108 L 13 90 L 13 13 Z" fill="#e4e9e9" stroke="#4f5a60" stroke-width="1.1" /><path d="M -11.6 15 L -11.6 91" fill="none" stroke="#ffffff" stroke-width="1" /><rect x="-10" y="22" width="20" height="67" rx="1.5" fill="#d2e6ee" stroke="#4fb3d3" stroke-width="1"/><line x1="-12.5" y1="25" x2="-6" y2="25" stroke="#3a4348" stroke-width="0.8" /><line x1="-12.5" y1="29.7" x2="-8.5" y2="29.7" stroke="#3a4348" stroke-width="0.8" /><line x1="-12.5" y1="34.4" x2="-6" y2="34.4" stroke="#3a4348" stroke-width="0.8" /><line x1="-12.5" y1="39.1" x2="-8.5" y2="39.1" stroke="#3a4348" stroke-width="0.8" /><line x1="-12.5" y1="43.8" x2="-6" y2="43.8" stroke="#3a4348" stroke-width="0.8" /><line x1="-12.5" y1="48.5" x2="-8.5" y2="48.5" stroke="#3a4348" stroke-width="0.8" /><line x1="-12.5" y1="53.2" x2="-6" y2="53.2" stroke="#3a4348" stroke-width="0.8" /><line x1="-12.5" y1="57.9" x2="-8.5" y2="57.9" stroke="#3a4348" stroke-width="0.8" /><line x1="-12.5" y1="62.6" x2="-6" y2="62.6" stroke="#3a4348" stroke-width="0.8" /><line x1="-12.5" y1="67.3" x2="-8.5" y2="67.3" stroke="#3a4348" stroke-width="0.8" /><line x1="-12.5" y1="72" x2="-6" y2="72" stroke="#3a4348" stroke-width="0.8" /><line x1="-12.5" y1="76.7" x2="-8.5" y2="76.7" stroke="#3a4348" stroke-width="0.8" /><line x1="-12.5" y1="81.4" x2="-6" y2="81.4" stroke="#3a4348" stroke-width="0.8" /><line x1="-12.5" y1="86.1" x2="-8.5" y2="86.1" stroke="#3a4348" stroke-width="0.8" /><rect x="-16.5" y="0" width="33" height="16" rx="1.5" fill="#c385ac"/><rect x="-17.5" y="12" width="35" height="4" rx="1" fill="#b07099"/><line x1="-14" y1="1.5" x2="-14" y2="11" stroke="#b07099" stroke-width="0.7" opacity="0.6"/><line x1="-10.9" y1="1.5" x2="-10.9" y2="11" stroke="#b07099" stroke-width="0.7" opacity="0.6"/><line x1="-7.8" y1="1.5" x2="-7.8" y2="11" stroke="#b07099" stroke-width="0.7" opacity="0.6"/><line x1="-4.7" y1="1.5" x2="-4.7" y2="11" stroke="#b07099" stroke-width="0.7" opacity="0.6"/><line x1="-1.6" y1="1.5" x2="-1.6" y2="11" stroke="#b07099" stroke-width="0.7" opacity="0.6"/><line x1="1.5" y1="1.5" x2="1.5" y2="11" stroke="#b07099" stroke-width="0.7" opacity="0.6"/><line x1="4.6" y1="1.5" x2="4.6" y2="11" stroke="#b07099" stroke-width="0.7" opacity="0.6"/><line x1="7.7" y1="1.5" x2="7.7" y2="11" stroke="#b07099" stroke-width="0.7" opacity="0.6"/><line x1="10.8" y1="1.5" x2="10.8" y2="11" stroke="#b07099" stroke-width="0.7" opacity="0.6"/><line x1="13.9" y1="1.5" x2="13.9" y2="11" stroke="#b07099" stroke-width="0.7" opacity="0.6"/></g>
<text x="1458.5" y="196.9" font-size="30" font-family="'Liberation Serif', 'DejaVu Serif', serif" textLength="51.5" lengthAdjust="spacingAndGlyphs"><tspan font-style="italic">x</tspan>(1)</text>
<text x="1820.3" y="198.6" font-size="30" font-family="'Liberation Serif', 'DejaVu Serif', serif" textLength="51.7" lengthAdjust="spacingAndGlyphs"><tspan font-style="italic">x</tspan>(2)</text>
<text x="0" y="264.1" font-size="29.5" font-weight="bold" >b</text>
<path d="M 79.2 253.2 L 1921 253.2 A 43 43 0 0 1 1964 296.2" fill="none" stroke="#d58636" stroke-width="2.6" stroke-dasharray="33.6 16.78" stroke-dashoffset="0"/>
<path d="M 1964 303.7 L 1964 571.8 A 45 45 0 0 1 1919 616.8" fill="none" stroke="#d58636" stroke-width="2.6" stroke-dasharray="33.6 16.78" stroke-dashoffset="0"/>
<path d="M 1902.8 616.8 L 916.3 616.8 A 45 45 0 0 0 871.2 661.8" fill="none" stroke="#d58636" stroke-width="2.6" stroke-dasharray="33.6 16.78" stroke-dashoffset="0"/>
<path d="M 871.2 665 L 871.2 964.2 A 40 40 0 0 1 831.2 1004.2" fill="none" stroke="#d58636" stroke-width="2.6" stroke-dasharray="33.6 16.78" stroke-dashoffset="0"/>
<path d="M 831.2 1004.2 L 68.6 1004.2 A 38 38 0 0 1 30.6 966.2" fill="none" stroke="#d58636" stroke-width="2.6" stroke-dasharray="33.6 16.78" stroke-dashoffset="5.1"/>
<path d="M 30.6 932 L 30.6 294.2 A 41 41 0 0 1 71.6 253.2" fill="none" stroke="#d58636" stroke-width="2.6" stroke-dasharray="33.6 16.78" stroke-dashoffset="0"/>
<text x="65.2" y="296.7" font-size="26.5" font-weight="bold" textLength="206.8" lengthAdjust="spacingAndGlyphs" >Model Estimator</text>
<text x="65.2" y="328.5" font-size="26.4" textLength="152.8" lengthAdjust="spacingAndGlyphs" >(NeuralODE)</text>
<text x="132.8" y="383.3" font-size="27" font-family="'Liberation Serif', 'DejaVu Serif', serif" textLength="45" lengthAdjust="spacingAndGlyphs"><tspan font-style="italic">x</tspan>(<tspan font-style="italic">t</tspan>)</text>
<text x="105.4" y="454.9" font-size="26" font-family="'Liberation Serif', 'DejaVu Serif', serif" font-style="italic" textLength="74.9" lengthAdjust="spacingAndGlyphs">PAGA</text>
<line x1="201.2" y1="378.4" x2="221.6" y2="378.4" stroke="#000" stroke-width="2.2" /><polygon points="236.6,378.4 220.6,372 220.6,384.8" fill="#000"/>
<line x1="201.2" y1="445.2" x2="221.6" y2="445.2" stroke="#000" stroke-width="2.2" /><polygon points="236.6,445.2 220.6,438.8 220.6,451.6" fill="#000"/>
<line x1="273.4" y1="378.4" x2="368.2" y2="304.4" stroke="#111" stroke-width="1.45" />
<line x1="273.4" y1="378.4" x2="368.2" y2="358.3" stroke="#111" stroke-width="1.45" />
<line x1="273.4" y1="378.4" x2="368.2" y2="411.1" stroke="#111" stroke-width="1.45" />
<line x1="273.4" y1="378.4" x2="368.2" y2="464.4" stroke="#111" stroke-width="1.45" />
<line x1="273.4" y1="378.4" x2="368.2" y2="518.2" stroke="#111" stroke-width="1.45" />
<line x1="273.4" y1="445.2" x2="368.2" y2="304.4" stroke="#111" stroke-width="1.45" />
<line x1="273.4" y1="445.2" x2="368.2" y2="358.3" stroke="#111" stroke-width="1.45" />
<line x1="273.4" y1="445.2" x2="368.2" y2="411.1" stroke="#111" stroke-width="1.45" />
<line x1="273.4" y1="445.2" x2="368.2" y2="464.4" stroke="#111" stroke-width="1.45" />
<line x1="273.4" y1="445.2" x2="368.2" y2="518.2" stroke="#111" stroke-width="1.45" />
<line x1="393.4" y1="304.4" x2="487.9" y2="411.1" stroke="#111" stroke-width="1.45" />
<line x1="393.4" y1="358.3" x2="487.9" y2="411.1" stroke="#111" stroke-width="1.45" />
<line x1="393.4" y1="411.1" x2="487.9" y2="411.1" stroke="#111" stroke-width="1.45" />
<line x1="393.4" y1="464.4" x2="487.9" y2="411.1" stroke="#111" stroke-width="1.45" />
<line x1="393.4" y1="518.2" x2="487.9" y2="411.1" stroke="#111" stroke-width="1.45" />
<circle cx="260.8" cy="378.4" r="12.6" fill="#c3dfc0" stroke="#111" stroke-width="2.2" />
<circle cx="260.8" cy="445.2" r="12.6" fill="#c3dfc0" stroke="#111" stroke-width="2.2" />
<circle cx="380.8" cy="304.4" r="12.6" fill="#c3deee" stroke="#111" stroke-width="2.2" />
<circle cx="380.8" cy="358.3" r="12.6" fill="#c3deee" stroke="#111" stroke-width="2.2" />
<circle cx="380.8" cy="411.1" r="12.6" fill="#c3deee" stroke="#111" stroke-width="2.2" />
<circle cx="380.8" cy="464.4" r="12.6" fill="#c3deee" stroke="#111" stroke-width="2.2" />
<circle cx="380.8" cy="518.2" r="12.6" fill="#c3deee" stroke="#111" stroke-width="2.2" />
<circle cx="500.5" cy="411.1" r="12.6" fill="#f1ea9c" stroke="#111" stroke-width="2.2" />
<line x1="524.6" y1="411.1" x2="544.9" y2="411.1" stroke="#000" stroke-width="2.2" /><polygon points="559.9,411.1 543.9,404.7 543.9,417.5" fill="#000"/>
<text x="583.5" y="421" font-size="30" font-family="'Liberation Serif', 'DejaVu Serif', serif" textLength="45" lengthAdjust="spacingAndGlyphs"><tspan font-style="italic">K</tspan><tspan font-size="20" dy="6"><tspan font-style="italic">ij</tspan></tspan></text>
<path d="M 702 343.5 L 690 343.5 Q 674 343.5 674 360 L 674 383 Q 674 397 658.5 411.4 Q 674 426 674 440 L 674 462 Q 674 481 690 481 L 702 481" fill="none" stroke="#2b2e33" stroke-width="3" />
<text x="720.3" y="349.7" font-size="26.5" textLength="175.1" lengthAdjust="spacingAndGlyphs" >time - invariant</text>
<text x="720.3" y="491.6" font-size="26.5" textLength="155" lengthAdjust="spacingAndGlyphs" >time - variant</text>
<text x="923" y="421.5" font-size="32" text-anchor="middle" font-weight="bold" >+</text>
<text x="243.4" y="579.6" font-size="32" font-family="'Liberation Serif', 'DejaVu Serif', serif" textLength="144.8" lengthAdjust="spacingAndGlyphs"><tspan font-style="italic">f</tspan><tspan font-size="21" dy="5"><tspan font-style="italic">θ</tspan></tspan><tspan dy="-5">(<tspan font-style="italic">x</tspan>(<tspan font-style="italic">t</tspan>), <tspan font-style="italic">t</tspan>)</tspan></text>
<line x1="404" y1="570.3" x2="435" y2="570.3" stroke="#000" stroke-width="1.4" />
<path d="M 428.5 564.5 Q 430.5 568.5 435.8 570.3 Q 430.5 572.1 428.5 576.1" fill="none" stroke="#000" stroke-width="1.4" stroke-linecap="round"/>
<text x="447" y="579.6" font-size="32" font-family="'Liberation Serif', 'DejaVu Serif', serif" font-style="italic" textLength="80.2" lengthAdjust="spacingAndGlyphs">rates</text>
<text x="741" y="559" font-size="27" font-family="'Liberation Serif', 'DejaVu Serif', serif" text-anchor="middle"><tspan font-style="italic">dx</tspan></text>
<line x1="722.5" y1="572" x2="759.5" y2="572" stroke="#000" stroke-width="1.6" />
<text x="741" y="599.7" font-size="27" font-family="'Liberation Serif', 'DejaVu Serif', serif" text-anchor="middle"><tspan font-style="italic">dt</tspan></text>
<text x="774.6" y="580" font-size="29" font-family="'Liberation Serif', 'DejaVu Serif', serif" textLength="160" lengthAdjust="spacingAndGlyphs">= <tspan font-style="italic">g</tspan>(<tspan font-style="italic">f</tspan><tspan font-size="19" dy="4"><tspan font-style="italic">θ</tspan></tspan><tspan dy="-4">, <tspan font-style="italic">x</tspan>(<tspan font-style="italic">t</tspan>))</tspan></text>
<path d="M 1145.5 262.5 A 25 25 0 0 0 1120.5 287.5 L 1120.5 514.1 A 25 25 0 0 0 1145.5 539.1 L 1916 539.1 A 25 25 0 0 0 1941 514.1 L 1941 287.5 A 25 25 0 0 0 1916 262.5" fill="none" stroke="#8ea7d3" stroke-width="2.6" />
<text x="1145.3" y="297" font-size="26.2" font-weight="bold" textLength="119.3" lengthAdjust="spacingAndGlyphs" >Predicted</text>
<text x="1145.3" y="328.5" font-size="26.2" font-weight="bold" textLength="145.4" lengthAdjust="spacingAndGlyphs" >Cell Counts</text>
<line x1="1025.7" y1="411.4" x2="1854.4" y2="411.4" stroke="#e3b7c9" stroke-width="5" />
<circle cx="1026.4" cy="411.2" r="18.2" fill="#dfe6f2" stroke="#8ba1cf" stroke-width="5" />
<circle cx="1379.5" cy="411.4" r="17.7" fill="#f6e4ea" stroke="#e3b7c9" stroke-width="5" />
<circle cx="1643" cy="411.4" r="17.7" fill="#f6e4ea" stroke="#e3b7c9" stroke-width="5" />
<circle cx="1854.4" cy="411.4" r="17.7" fill="#f6e4ea" stroke="#e3b7c9" stroke-width="5" />
<text x="998" y="366.8" font-size="31" font-family="'Liberation Serif', 'DejaVu Serif', serif" textLength="59" lengthAdjust="spacingAndGlyphs"><tspan font-style="italic">x</tspan>(0)</text>
<text x="1819.4" y="366.8" font-size="31" font-family="'Liberation Serif', 'DejaVu Serif', serif" textLength="61" lengthAdjust="spacingAndGlyphs"><tspan font-style="italic">x</tspan>(<tspan font-style="italic">n</tspan>)</text>
<text x="999.6" y="485.9" font-size="22.5" font-family="'Liberation Serif', 'DejaVu Serif', serif" textLength="57.4" lengthAdjust="spacingAndGlyphs"><tspan font-style="italic">dx</tspan>(0)</text>
<line x1="997.5" y1="496.3" x2="1060.5" y2="496.3" stroke="#000" stroke-width="1.3" />
<text x="1028.4" y="518.8" font-size="22.5" font-family="'Liberation Serif', 'DejaVu Serif', serif" text-anchor="middle"><tspan font-style="italic">dt</tspan></text>
<text x="1321.9" y="498.8" font-size="36.5" font-family="'Liberation Serif', 'DejaVu Serif', serif" font-style="italic" textLength="178" lengthAdjust="spacingAndGlyphs">ODESolver</text>
<text x="1502.5" y="498.8" font-size="36.5" font-family="'Liberation Serif', 'DejaVu Serif', serif" textLength="253.5" lengthAdjust="spacingAndGlyphs">(<tspan font-style="italic">x</tspan>(<tspan font-style="italic">t</tspan><tspan font-size="25" dy="5.5">0</tspan><tspan dy="-5.5">), <tspan font-style="italic">t</tspan></tspan><tspan font-size="25" dy="5.5">0</tspan><tspan dy="-5.5">, <tspan font-style="italic">t</tspan></tspan><tspan font-size="25" dy="5.5"><tspan font-style="italic">n</tspan></tspan><tspan dy="-5.5">, <tspan font-style="italic">g</tspan>, <tspan font-style="italic">θ</tspan>)</tspan></text>
<line x1="1765" y1="488.5" x2="1801" y2="488.5" stroke="#000" stroke-width="1.5" />
<path d="M 1793.5 482 Q 1796 486.5 1802 488.5 Q 1796 490.5 1793.5 495" fill="none" stroke="#000" stroke-width="1.5" stroke-linecap="round"/>
<text x="1814.5" y="498.8" font-size="36.5" font-family="'Liberation Serif', 'DejaVu Serif', serif" textLength="74" lengthAdjust="spacingAndGlyphs"><tspan font-style="italic">x</tspan>(<tspan font-style="italic">t</tspan><tspan font-size="25" dy="5.5"><tspan font-style="italic">n</tspan></tspan><tspan dy="-5.5">)</tspan></text>
<line x1="1022" y1="556.4" x2="1888.6" y2="556.4" stroke="#2b2e33" stroke-width="2.4" /><polygon points="1904.6,556.4 1887.6,549.9 1887.6,562.9" fill="#2b2e33"/>
<line x1="1022" y1="546" x2="1022" y2="566.8" stroke="#2b2e33" stroke-width="2.4" />
<line x1="1375.6" y1="546" x2="1375.6" y2="566.8" stroke="#2b2e33" stroke-width="2.4" />
<line x1="1639.3" y1="546" x2="1639.3" y2="566.8" stroke="#2b2e33" stroke-width="2.4" />
<line x1="1858.6" y1="546" x2="1858.6" y2="566.8" stroke="#2b2e33" stroke-width="2.4" />
<text x="1019" y="597" font-size="25" text-anchor="middle" >T0</text>
<text x="1376" y="597" font-size="25" text-anchor="middle" >T1</text>
<text x="1640.5" y="597" font-size="25" text-anchor="middle" >T2</text>
<text x="1862" y="597" font-size="25" text-anchor="middle" >Tn</text>
<line x1="1394.8" y1="378.8" x2="1481" y2="214.5" stroke="#2b2e33" stroke-width="2.8" stroke-dasharray="9 5.5"/>
<line x1="1665.4" y1="382.5" x2="1838" y2="212" stroke="#2b2e33" stroke-width="2.8" stroke-dasharray="9 5.5"/>
<text x="0" y="0" font-size="23" transform="translate(1390 358.8) rotate(-57)">Loss (1)</text>
<text x="0" y="0" font-size="23" transform="translate(1681.5 352.5) rotate(-46)">Loss (2)</text>
<text x="0" y="655.3" font-size="29.5" font-weight="bold" >c</text>
<text x="112.3" y="655.3" font-size="26.5" textLength="262.5" lengthAdjust="spacingAndGlyphs" >1) Delineate dynamics</text>
<text x="542.3" y="655.3" font-size="26.5" textLength="272.5" lengthAdjust="spacingAndGlyphs" >2) Confidence intervals</text>
<line x1="80" y1="945.9" x2="80" y2="680" stroke="#2b2e33" stroke-width="3" />
<polygon points="80,666.6 74.5,681 85.5,681" fill="#2b2e33"/>
<line x1="78.5" y1="945.9" x2="430" y2="945.9" stroke="#2b2e33" stroke-width="3" />
<polygon points="442.7,945.9 428.5,940.4 428.5,951.4" fill="#2b2e33"/>
<line x1="79.9" y1="715.2" x2="435" y2="715.2" stroke="#1e2023" stroke-width="2.8" stroke-dasharray="10.6 9.8"/>
<path d="M 83 944 C 87.12 942.83 99.5 939.52 107.7 937 C 115.9 934.48 124.57 931.88 132.2 928.9 C 139.83 925.92 146.68 923.2 153.5 919.1 C 160.32 915 166.02 910.03 173.1 904.3 C 180.18 898.57 188.92 891.78 196 884.7 C 203.08 877.62 209.07 869.97 215.6 861.8 C 222.13 853.63 229.2 844.13 235.2 835.7 C 241.2 827.27 246.97 818.83 251.6 811.2 C 256.23 803.57 259.73 797.53 263 789.9 C 266.27 782.27 268.88 773.57 271.2 765.4 C 273.52 757.23 275.4 749.22 276.9 740.9 C 278.4 732.58 279.65 719.73 280.2 715.5" fill="none" stroke="#c8705f" stroke-width="3.4" stroke-linecap="butt"/>
<path d="M 83 944 C 89.83 943.12 111.17 940.4 124 938.7 C 136.83 937 149.1 935.58 160 933.8 C 170.9 932.02 180.4 930.18 189.4 928 C 198.4 925.82 204.45 924.1 214 920.7 C 223.55 917.3 237.17 911.68 246.7 907.6 C 256.23 903.52 264.4 900.28 271.2 896.2 C 278 892.12 281.52 888.02 287.5 883.1 C 293.48 878.18 301.1 872.7 307.1 866.7 C 313.1 860.7 318.58 853.63 323.5 847.1 C 328.42 840.57 331.7 835.67 336.6 827.5 C 341.5 819.33 347.45 809 352.9 798.1 C 358.35 787.2 363.85 775.87 369.3 762.1 C 374.75 748.33 382.88 723.27 385.6 715.5" fill="none" stroke="#7f94bf" stroke-width="3.4" stroke-linecap="butt"/>
<text x="162" y="784.3" font-size="26.5" fill="#c8705f" textLength="82.5" lengthAdjust="spacingAndGlyphs" >Clones</text>
<text x="283" y="923.3" font-size="26.5" fill="#7f93bd" textLength="117.6" lengthAdjust="spacingAndGlyphs" >Cell types</text>
<text x="0" y="0" font-size="26.5" transform="translate(63.4 897.5) rotate(-90)" textLength="178.9" lengthAdjust="spacingAndGlyphs">Population size</text>
<text x="129" y="982.1" font-size="26.5" textLength="210.5" lengthAdjust="spacingAndGlyphs" >Experimental time</text>
<line x1="513.8" y1="950.4" x2="513.8" y2="691" stroke="#2b2e33" stroke-width="3" />
<polygon points="513.8,677.9 508.3,692.3 519.3,692.3" fill="#2b2e33"/>
<line x1="512.3" y1="950.4" x2="848" y2="950.4" stroke="#2b2e33" stroke-width="3" />
<polygon points="860.1,950.4 845.9,944.9 845.9,955.9" fill="#2b2e33"/>
<path d="M 532 950 C 536.67 948.17 551.17 943.67 560 939 C 568.83 934.33 578 927.42 585 922 C 592 916.58 595.83 912.83 602 906.5 C 608.17 900.17 615.67 891.75 622 884 C 628.33 876.25 635.78 865.08 640 860 C 644.22 854.92 644.8 854.33 647.3 853.5 C 649.8 852.67 652.05 852.58 655 855 C 657.95 857.42 661.37 865.07 665 868 C 668.63 870.93 672.63 872.6 676.8 872.6 C 680.97 872.6 685.85 871.02 690 868 C 694.15 864.98 698.03 862.5 701.7 854.5 C 705.37 846.5 708.23 834.35 712 820 C 715.77 805.65 720.3 784.23 724.3 768.4 C 728.3 752.57 733.05 735.4 736 725 C 738.95 714.6 740.55 710.98 742 706 C 743.45 701.02 743.78 695.27 744.7 695.1 C 745.62 694.93 745.62 696.68 747.5 705 C 749.38 713.32 752.7 727.63 756 745 C 759.3 762.37 764.67 796.62 767.3 809.2 C 769.93 821.78 769.68 810.7 771.8 820.5 C 773.92 830.3 776.97 851.78 780 868 C 783.03 884.22 787 905.8 790 917.8 C 793 929.8 795.37 934.72 798 940 C 800.63 945.28 804.5 947.92 805.8 949.5" fill="none" stroke="#ba7ba9" stroke-width="2.6" />
<text x="0" y="0" font-size="26.5" transform="translate(500.5 856.7) rotate(-90)" textLength="86" lengthAdjust="spacingAndGlyphs">Counts</text>
<text x="542.3" y="982.1" font-size="26.5" textLength="288.4" lengthAdjust="spacingAndGlyphs" >Population-specific rates</text>
<text x="897.3" y="654.6" font-size="29.5" font-weight="bold" >d</text>
<text x="1114.1" y="656.2" font-size="26.5" textLength="399.7" lengthAdjust="spacingAndGlyphs" >1) Gillespie stochastic simulations</text>
<text x="1629.7" y="656.2" font-size="26.5" textLength="245.3" lengthAdjust="spacingAndGlyphs" >2) Potency preference</text>
<text x="896.7" y="710.3" font-size="26.5" font-weight="bold" textLength="191.2" lengthAdjust="spacingAndGlyphs" >Data Generator</text>
<text x="896.7" y="742.6" font-size="26.5" textLength="315" lengthAdjust="spacingAndGlyphs" >(Stochastic &amp; Quantitative)</text>
<ellipse cx="1316.2" cy="705.8" rx="21.5" ry="21.9" fill="#e48a86" stroke="#d06f6d" stroke-width="1" />
<circle cx="1318.2" cy="706.2" r="8.4" fill="#d2666a" stroke="none" stroke-width="1" />
<ellipse cx="1392.2" cy="770" rx="21.4" ry="21.8" fill="#e48a86" stroke="#d06f6d" stroke-width="1" />
<circle cx="1394.6" cy="770.2" r="8" fill="#d2666a" stroke="none" stroke-width="1" />
<path d="M 1315.2 738.4 L 1315.2 806.8" fill="none" stroke="#2b2e33" stroke-width="2.3" />
<path d="M 1315.2 756.5 Q 1316 768 1329.3 768 L 1354 768" fill="none" stroke="#2b2e33" stroke-width="2.3" />
<polygon points="1361.5,768 1352.5,763.5 1352.5,772.5" fill="#2b2e33"/>
<path d="M 1315.2 805 Q 1313 819.3 1297 819.3 L 1168.3 819.3 Q 1152.2 819.3 1152.2 835 L 1152.2 892" fill="none" stroke="#2b2e33" stroke-width="2.3" />
<path d="M 1250.8 819.3 Q 1234.7 819.3 1234.7 835 L 1234.7 892" fill="none" stroke="#2b2e33" stroke-width="2.3" />
<path d="M 1315.2 805 Q 1317.4 819.3 1333 819.3 L 1463 819.3 Q 1479.2 819.3 1479.2 835 L 1479.2 892" fill="none" stroke="#2b2e33" stroke-width="2.3" />
<path d="M 1381.6 819.3 Q 1396.7 819.3 1396.7 835 L 1396.7 892" fill="none" stroke="#2b2e33" stroke-width="2.3" />
<polygon points="1152.2,900.6 1147.6,891.5 1156.8,891.5" fill="#2b2e33"/>
<polygon points="1234.7,900.6 1230.1,891.5 1239.3,891.5" fill="#2b2e33"/>
<polygon points="1396.7,900.6 1392.1,891.5 1401.3,891.5" fill="#2b2e33"/>
<polygon points="1479.2,900.6 1474.6,891.5 1483.8,891.5" fill="#2b2e33"/>
<path d="M 1154.21 915.88 C 1156.89 916.63 1169.95 917.54 1174.33 921.51 C 1178.7 925.48 1186.2 941.09 1187 945.65 C 1187.81 950.21 1184.74 952.36 1180.36 955.71 C 1175.99 959.07 1160.64 970.54 1154.21 970.8 C 1147.77 971.07 1135.51 960.27 1132.07 957.73 C 1128.64 955.18 1128.18 955.71 1128.45 951.69 C 1128.72 947.67 1130.65 932.32 1134.08 927.55 C 1137.52 922.77 1148.84 916.68 1154.21 915.88 C 1159.57 915.07 1169.95 917.54 1174.33 921.51 C 1178.7 925.48 1185.31 942.43 1187 945.65" fill="#b5b6b6" stroke="#8e9091" stroke-width="1" />
<circle cx="1155.2" cy="941.6" r="9.5" fill="#6b6d6f" stroke="none" stroke-width="1" />
<circle cx="1143" cy="928" r="0.7" fill="#909293" stroke="none" stroke-width="1" />
<circle cx="1169" cy="926" r="0.7" fill="#909293" stroke="none" stroke-width="1" />
<circle cx="1175" cy="948" r="0.7" fill="#909293" stroke="none" stroke-width="1" />
<circle cx="1151" cy="960" r="0.7" fill="#909293" stroke="none" stroke-width="1" />
<circle cx="1139" cy="946" r="0.7" fill="#909293" stroke="none" stroke-width="1" />
<circle cx="1163" cy="936" r="0.7" fill="#909293" stroke="none" stroke-width="1" />
<circle cx="1171" cy="960" r="0.7" fill="#909293" stroke="none" stroke-width="1" />
<ellipse cx="1239.7" cy="940.6" rx="30.2" ry="32" fill="#e9aac9" stroke="#c27ca3" stroke-width="1" />
<path d="M 1231 924 Q 1225 936 1226 946 Q 1229 954 1240 954 L 1247 955" fill="none" stroke="#c874a7" stroke-width="8.5" stroke-linecap="round" stroke-linejoin="round"/>
<ellipse cx="1231" cy="920.5" rx="7.2" ry="6.3" fill="#c874a7" stroke="none" stroke-width="1" />
<ellipse cx="1236" cy="932" rx="5.5" ry="3.6" fill="#c874a7" stroke="none" stroke-width="1" />
<ellipse cx="1248.5" cy="954" rx="7.5" ry="6.5" fill="#c874a7" stroke="none" stroke-width="1" />
<circle cx="1219.7" cy="935.6" r="0.7" fill="#d48bb3" stroke="none" stroke-width="1" />
<circle cx="1227.7" cy="958.6" r="0.7" fill="#d48bb3" stroke="none" stroke-width="1" />
<circle cx="1253.7" cy="926.6" r="0.7" fill="#d48bb3" stroke="none" stroke-width="1" />
<circle cx="1259.7" cy="944.6" r="0.7" fill="#d48bb3" stroke="none" stroke-width="1" />
<circle cx="1247.7" cy="918.6" r="0.7" fill="#d48bb3" stroke="none" stroke-width="1" />
<circle cx="1233.7" cy="964.6" r="0.7" fill="#d48bb3" stroke="none" stroke-width="1" />
<circle cx="1261.7" cy="932.6" r="0.7" fill="#d48bb3" stroke="none" stroke-width="1" />
<circle cx="1243.7" cy="950.6" r="0.7" fill="#d48bb3" stroke="none" stroke-width="1" />
<circle cx="1221.7" cy="950.6" r="0.7" fill="#d48bb3" stroke="none" stroke-width="1" />
<circle cx="1255.7" cy="958.6" r="0.7" fill="#d48bb3" stroke="none" stroke-width="1" />
<circle cx="1251.7" cy="936.6" r="0.7" fill="#d48bb3" stroke="none" stroke-width="1" />
<circle cx="1235.7" cy="916.6" r="0.7" fill="#d48bb3" stroke="none" stroke-width="1" />
<g transform="translate(1398.7 940.6) rotate(-42)"><ellipse cx="0" cy="0" rx="32" ry="16.5" fill="#c52c41" stroke="#a51c30" stroke-width="1" /><path d="M -22 4 Q -8 -8 12 -6 Q -4 0 -18 8 Z" fill="#961428" stroke="none" stroke-width="0" /><path d="M 14 -10 Q 20 -8 22 -4" fill="none" stroke="#ee6a78" stroke-width="1.8" stroke-linecap="round"/></g>
<path d="M 1505.5 938.6 L 1505.64 940.83 L 1506.9 943.31 L 1510.68 946.77 L 1505.48 947.8 L 1503.04 949.25 L 1501.86 951.1 L 1500.57 952.86 L 1499.19 954.53 L 1498.61 957.01 L 1499.37 961.45 L 1495.19 960 L 1492.65 960.16 L 1490.7 961.12 L 1488.64 961.8 L 1486.52 962.19 L 1484.66 963.91 L 1482.83 968.66 L 1480.2 963.52 L 1478.2 961.52 L 1476.23 961.1 L 1474.28 960.7 L 1472.3 960.32 L 1469.83 960.84 L 1466.15 962.94 L 1465.44 959.69 L 1463.89 958.04 L 1461.88 956.92 L 1460.06 955.5 L 1458.53 953.77 L 1456.04 952.55 L 1451.09 952.17 L 1454.66 947.9 L 1455.92 945.11 L 1455.99 942.87 L 1456.21 940.7 L 1456.5 938.6 L 1455.46 936.44 L 1451.75 933.58 L 1456.23 932.18 L 1458.02 930.53 L 1458.63 928.54 L 1459.42 926.6 L 1460.43 924.76 L 1460.79 922.31 L 1459.89 918.29 L 1463.94 919.22 L 1466.37 918.84 L 1468.15 917.73 L 1469.99 916.71 L 1471.88 915.75 L 1473.45 913.41 L 1474.83 908.14 L 1477.86 911.88 L 1480.2 912.9 L 1482.47 912.7 L 1484.74 912.85 L 1486.96 913.37 L 1489.05 914.27 L 1491.49 914.39 L 1495.15 912.71 L 1494.83 917.7 L 1495.39 920.5 L 1496.52 922.28 L 1497.6 924 L 1499.79 924.88 L 1504.54 924.55 L 1502.18 928.35 L 1502.12 930.62 L 1503.25 932.42 L 1504.24 934.36 L 1505.02 936.43 Z" fill="#a8aad3" stroke="#8d90c6" stroke-width="1" stroke-linejoin="round"/>
<path d="M 1461 930 Q 1462 915 1478 914 Q 1493 914 1491 926 Q 1488 940 1476 945 Q 1462 946 1461 930 Z" fill="#8a8cbf" stroke="none" stroke-width="0" />
<defs><clipPath id="surf"><path d="M 1584.66 850.08 C 1587.07 850.25 1594.05 849.58 1599.14 851.09 C 1604.24 852.6 1607.86 853.1 1615.24 859.13 C 1622.62 865.17 1636.7 881.6 1643.41 887.3 C 1650.12 893 1651.46 892.84 1655.48 893.34 C 1659.51 893.84 1660.85 893 1667.56 890.32 C 1674.26 887.64 1687.68 878.42 1695.72 877.24 C 1703.77 876.07 1707.8 879.76 1715.85 883.28 C 1723.89 886.8 1737.31 896.36 1744.01 898.37 C 1750.72 900.38 1744.68 901.56 1756.09 895.35 C 1767.49 889.15 1799.01 866.01 1812.42 861.15 C 1825.84 856.28 1824.83 860.31 1836.57 866.18 C 1848.31 872.05 1872.79 892.5 1882.85 896.36 C 1892.91 900.21 1892.91 890.82 1896.93 889.32 C 1900.96 887.81 1900.96 886.13 1906.99 887.3 C 1913.03 888.48 1923.76 898.54 1933.15 896.36 C 1942.54 894.18 1958.3 877.91 1963.33 874.23 L 1963.33 871.21 L 1870.77 693.74 C 1862.73 693.98 1836.57 693.41 1822.48 695.15 C 1808.4 696.89 1796.66 702.03 1786.27 704.21 C 1775.87 706.38 1768.49 707.89 1760.11 708.23 C 1751.73 708.56 1746.03 709.24 1735.97 706.22 C 1725.91 703.2 1708.8 693.81 1699.75 690.12 C 1690.69 686.43 1684.66 685.09 1681.64 684.08 Z"/></clipPath></defs>
<path d="M 1584.66 850.08 C 1587.07 850.25 1594.05 849.58 1599.14 851.09 C 1604.24 852.6 1607.86 853.1 1615.24 859.13 C 1622.62 865.17 1636.7 881.6 1643.41 887.3 C 1650.12 893 1651.46 892.84 1655.48 893.34 C 1659.51 893.84 1660.85 893 1667.56 890.32 C 1674.26 887.64 1687.68 878.42 1695.72 877.24 C 1703.77 876.07 1707.8 879.76 1715.85 883.28 C 1723.89 886.8 1737.31 896.36 1744.01 898.37 C 1750.72 900.38 1744.68 901.56 1756.09 895.35 C 1767.49 889.15 1799.01 866.01 1812.42 861.15 C 1825.84 856.28 1824.83 860.31 1836.57 866.18 C 1848.31 872.05 1872.79 892.5 1882.85 896.36 C 1892.91 900.21 1892.91 890.82 1896.93 889.32 C 1900.96 887.81 1900.96 886.13 1906.99 887.3 C 1913.03 888.48 1923.76 898.54 1933.15 896.36 C 1942.54 894.18 1958.3 877.91 1963.33 874.23 L 1963.33 871.21 L 1870.77 693.74 C 1862.73 693.98 1836.57 693.41 1822.48 695.15 C 1808.4 696.89 1796.66 702.03 1786.27 704.21 C 1775.87 706.38 1768.49 707.89 1760.11 708.23 C 1751.73 708.56 1746.03 709.24 1735.97 706.22 C 1725.91 703.2 1708.8 693.81 1699.75 690.12 C 1690.69 686.43 1684.66 685.09 1681.64 684.08 Z" fill="#bad7df" stroke="none" stroke-width="0" />
<g clip-path="url(#surf)">
<path d="M 1679.63 682.07 L 1701.76 689.11 L 1629.33 871.21 L 1583.05 871.21 L 1583.05 849.07 Z" fill="#d4e6ec" stroke="none" stroke-width="0" />
<path d="M 1701.76 689.11 L 1715.85 700.18 L 1643.41 887.3 L 1629.33 871.21 Z" fill="#c9dfe6" stroke="none" stroke-width="0" />
<path d="M 1766.15 738.41 C 1769.84 740.09 1782.24 742.43 1788.28 748.47 C 1794.32 754.51 1798.34 763.56 1802.36 774.63 C 1806.39 785.69 1809.74 800.11 1812.42 814.87 C 1815.11 829.62 1829.86 849.07 1818.46 863.16 C 1807.06 877.24 1763.8 896.69 1744.01 899.38 C 1724.23 902.06 1704.44 892 1699.75 879.26 C 1695.05 866.51 1710.48 839.01 1715.85 822.92 C 1721.21 806.82 1726.58 794.75 1731.94 782.68 C 1737.31 770.6 1742.34 757.86 1748.04 750.48 C 1753.74 743.11 1763.13 740.42 1766.15 738.41 Z" fill="#c9dfe6" stroke="none" stroke-width="0" />
<path d="M 1785.26 776.64 C 1785.76 782.34 1787.11 795.42 1788.28 810.85 C 1789.45 826.27 1793.31 859.13 1792.3 869.2 C 1791.3 879.26 1784.59 878.92 1782.24 871.21 C 1779.9 863.49 1777.72 838.68 1778.22 822.92 C 1778.72 807.16 1784.09 784.35 1785.26 776.64 Z" fill="#d6e8ee" stroke="none" stroke-width="0" />
<path d="M 1793.31 752.49 C 1795.82 756.18 1802.87 764.9 1808.4 774.63 C 1813.93 784.35 1821.48 795.59 1826.51 810.85 C 1831.54 826.1 1840.26 857.79 1838.58 866.18 C 1836.9 874.56 1821.14 870.37 1816.45 861.15 C 1811.75 851.92 1813.1 825.26 1810.41 810.85 C 1807.73 796.43 1803.2 784.35 1800.35 774.63 C 1797.5 764.9 1794.48 756.18 1793.31 752.49 Z" fill="#a5c7cd" stroke="none" stroke-width="0" />
<path d="M 1715.85 813.86 C 1717.19 814.7 1723.22 812.69 1723.89 818.89 C 1724.56 825.1 1721.21 840.02 1719.87 851.09 C 1718.53 862.15 1719.87 880.93 1715.85 885.29 C 1711.82 889.65 1703.1 876.91 1695.72 877.24 C 1688.35 877.58 1674.26 891.66 1671.58 887.3 C 1668.9 882.94 1675.6 861.15 1679.63 851.09 C 1683.65 841.03 1689.69 833.15 1695.72 826.94 C 1701.76 820.74 1712.49 816.04 1715.85 813.86 Z" fill="#d6e8ee" stroke="none" stroke-width="0" />
<path d="M 1721.88 824.93 C 1723.56 828.62 1729.59 836 1731.94 847.06 C 1734.29 858.13 1736.64 883.95 1735.97 891.33 C 1735.3 898.71 1729.76 898.03 1727.92 891.33 C 1726.07 884.62 1725.91 862.15 1724.9 851.09 C 1723.89 840.02 1722.38 829.29 1721.88 824.93 Z" fill="#a6c8ce" stroke="none" stroke-width="0" />
<path d="M 1854.68 808.83 C 1857.7 811.18 1866.42 815.88 1872.79 822.92 C 1879.16 829.96 1887.54 840.36 1892.91 851.09 C 1898.27 861.82 1905.65 879.93 1904.98 887.3 C 1904.31 894.68 1894.58 901.39 1888.88 895.35 C 1883.18 889.32 1876.48 865.51 1870.77 851.09 C 1865.07 836.67 1857.36 815.88 1854.68 808.83 Z" fill="#cfe3e9" stroke="none" stroke-width="0" />
<path d="M 1884.86 819.9 C 1887.54 823.42 1895.59 832.47 1900.96 841.03 C 1906.32 849.58 1912.36 862.49 1917.05 871.21 C 1921.75 879.93 1929.12 890.66 1929.12 893.34 C 1929.12 896.02 1921.75 894.35 1917.05 887.3 C 1912.36 880.26 1906.32 862.32 1900.96 851.09 C 1895.59 839.85 1887.54 825.1 1884.86 819.9 Z" fill="#a6c8ce" stroke="none" stroke-width="0" />
<path d="M 1846.63 694.14 L 1870.77 693.74 L 1963.33 871.21 L 1953.27 871.21 L 1896.93 774.63 Z" fill="#d2e5eb" stroke="none" stroke-width="0" />
<path d="M 1822.48 695.15 L 1846.63 694.14 L 1896.93 774.63 L 1953.27 871.21 L 1937.17 891.33 L 1876.81 782.68 Z" fill="#c3dbe2" stroke="none" stroke-width="0" />
</g>
<path d="M 1584.66 850.08 C 1587.07 850.25 1594.05 849.58 1599.14 851.09 C 1604.24 852.6 1607.86 853.1 1615.24 859.13 C 1622.62 865.17 1636.7 881.6 1643.41 887.3 C 1650.12 893 1651.46 892.84 1655.48 893.34 C 1659.51 893.84 1660.85 893 1667.56 890.32 C 1674.26 887.64 1687.68 878.42 1695.72 877.24 C 1703.77 876.07 1707.8 879.76 1715.85 883.28 C 1723.89 886.8 1737.31 896.36 1744.01 898.37 C 1750.72 900.38 1744.68 901.56 1756.09 895.35 C 1767.49 889.15 1799.01 866.01 1812.42 861.15 C 1825.84 856.28 1824.83 860.31 1836.57 866.18 C 1848.31 872.05 1872.79 892.5 1882.85 896.36 C 1892.91 900.21 1892.91 890.82 1896.93 889.32 C 1900.96 887.81 1900.96 886.13 1906.99 887.3 C 1913.03 888.48 1923.76 898.54 1933.15 896.36 C 1942.54 894.18 1958.3 877.91 1963.33 874.23 L 1963.33 871.21 L 1870.77 693.74 C 1862.73 693.98 1836.57 693.41 1822.48 695.15 C 1808.4 696.89 1796.66 702.03 1786.27 704.21 C 1775.87 706.38 1768.49 707.89 1760.11 708.23 C 1751.73 708.56 1746.03 709.24 1735.97 706.22 C 1725.91 703.2 1708.8 693.81 1699.75 690.12 C 1690.69 686.43 1684.66 685.09 1681.64 684.08 Z" fill="none" stroke="#5f9294" stroke-width="0.9" />
<path d="M 1584.66 850.08 C 1587.07 850.25 1594.05 849.58 1599.14 851.09 C 1604.24 852.6 1607.86 853.1 1615.24 859.13 C 1622.62 865.17 1636.7 881.6 1643.41 887.3 C 1650.12 893 1651.46 892.84 1655.48 893.34 C 1659.51 893.84 1660.85 893 1667.56 890.32 C 1674.26 887.64 1687.68 878.42 1695.72 877.24 C 1703.77 876.07 1707.8 879.76 1715.85 883.28 C 1723.89 886.8 1737.31 896.36 1744.01 898.37 C 1750.72 900.38 1744.68 901.56 1756.09 895.35 C 1767.49 889.15 1799.01 866.01 1812.42 861.15 C 1825.84 856.28 1824.83 860.31 1836.57 866.18 C 1848.31 872.05 1872.79 892.5 1882.85 896.36 C 1892.91 900.21 1892.91 890.82 1896.93 889.32 C 1900.96 887.81 1900.96 886.13 1906.99 887.3 C 1913.03 888.48 1923.76 898.54 1933.15 896.36 C 1942.54 894.18 1958.3 877.91 1963.33 874.23 L 1963.33 871.21 L 1963.33 980.87 L 1584.66 978.85 Z" fill="#a2c2c4" stroke="#5f9294" stroke-width="0.9" />
<circle cx="1762.1" cy="724.7" r="11.4" fill="#0e9ad6" stroke="#0a6aa8" stroke-width="1.4" />
<circle cx="1758.9" cy="721.1" r="2.3" fill="#ffffff" stroke="none" stroke-width="0" opacity="0.35"/>
<circle cx="1686.7" cy="821.9" r="11.4" fill="#9eaad5" stroke="#6f7dc0" stroke-width="1.4" />
<circle cx="1683.5" cy="818.3" r="2.3" fill="#ffffff" stroke="none" stroke-width="0" opacity="0.35"/>
<circle cx="1838.2" cy="825.3" r="11.4" fill="#e08898" stroke="#d2667d" stroke-width="1.4" />
<circle cx="1835" cy="821.7" r="2.3" fill="#ffffff" stroke="none" stroke-width="0" opacity="0.35"/>
<path d="M 1740 742.4 Q 1712 760 1700.5 792" fill="none" stroke="#25282a" stroke-width="2.8" />
<polygon points="1697.7,799.5 1697.5,786 1708,791" fill="#25282a"/>
<path d="M 1793.3 731.4 Q 1825 760 1836.5 790" fill="none" stroke="#25282a" stroke-width="2.8" />
<polygon points="1838.6,799 1829,788 1840.5,786" fill="#25282a"/>
<text x="0" y="1049.2" font-size="29.5" font-weight="bold" >e</text>
<text x="203.7" y="1050.2" font-size="26.6" textLength="592.1" lengthAdjust="spacingAndGlyphs" >Synthetic dataset governed by time-invariant rates</text>
<text x="150.9" y="1082.9" font-size="26.6" textLength="206.2" lengthAdjust="spacingAndGlyphs" >(i) constant mode</text>
<text x="650.4" y="1082.9" font-size="26.6" textLength="210.8" lengthAdjust="spacingAndGlyphs" >(ii) dynamic mode</text>
<text x="997.5" y="1049.1" font-size="29.5" font-weight="bold" >f</text>
<text x="1224.9" y="1050" font-size="26.6" textLength="570.8" lengthAdjust="spacingAndGlyphs" >Synthetic dataset governed by time-variant rates</text>
<text x="1139.1" y="1082.8" font-size="26.6" textLength="206.3" lengthAdjust="spacingAndGlyphs" >(i) constant mode</text>
<text x="1623.5" y="1082.8" font-size="26.6" textLength="211.4" lengthAdjust="spacingAndGlyphs" >(ii) dynamic mode</text>
<rect x="104.27" y="1280.49" width="11.83" height="123.31" fill="#6db381" />
<rect x="115.8" y="1300.69" width="11.83" height="103.11" fill="#f4b47e" />
<rect x="127.33" y="1280.79" width="11.83" height="123.01" fill="#2e6bae" />
<rect x="138.87" y="1222.9" width="11.83" height="180.9" fill="#c0602e" />
<rect x="150.4" y="1155.97" width="11.83" height="247.83" fill="#626668" />
<rect x="176.37" y="1116.77" width="11.83" height="287.03" fill="#6db381" />
<rect x="187.9" y="1116.77" width="11.83" height="287.03" fill="#f4b47e" />
<rect x="199.43" y="1118.88" width="11.83" height="284.92" fill="#2e6bae" />
<rect x="210.97" y="1115.57" width="11.83" height="288.23" fill="#c0602e" />
<rect x="222.5" y="1111.04" width="11.83" height="292.76" fill="#626668" />
<rect x="248.37" y="1116.17" width="11.83" height="287.63" fill="#6db381" />
<rect x="259.9" y="1114.66" width="11.83" height="289.14" fill="#f4b47e" />
<rect x="271.43" y="1115.26" width="11.83" height="288.54" fill="#2e6bae" />
<rect x="282.97" y="1113.76" width="11.83" height="290.04" fill="#c0602e" />
<rect x="294.5" y="1110.44" width="11.83" height="293.36" fill="#626668" />
<rect x="320.47" y="1117.68" width="11.83" height="286.12" fill="#6db381" />
<rect x="332" y="1114.96" width="11.83" height="288.84" fill="#f4b47e" />
<rect x="343.53" y="1114.06" width="11.83" height="289.74" fill="#2e6bae" />
<rect x="355.07" y="1111.95" width="11.83" height="291.85" fill="#c0602e" />
<rect x="366.6" y="1108.93" width="11.83" height="294.87" fill="#626668" />
<line x1="86" y1="1094" x2="86" y2="1405.2" stroke="#000" stroke-width="2.8" />
<line x1="84.6" y1="1403.8" x2="398" y2="1403.8" stroke="#000" stroke-width="2.8" />
<line x1="81.2" y1="1403.8" x2="86" y2="1403.8" stroke="#000" stroke-width="2.8" />
<text x="78" y="1409.7" font-size="15.3" text-anchor="end" font-family="'DejaVu Sans', sans-serif" >0</text>
<line x1="81.2" y1="1343.5" x2="86" y2="1343.5" stroke="#000" stroke-width="2.8" />
<text x="78" y="1349.4" font-size="15.3" text-anchor="end" font-family="'DejaVu Sans', sans-serif" >20</text>
<line x1="81.2" y1="1283.2" x2="86" y2="1283.2" stroke="#000" stroke-width="2.8" />
<text x="78" y="1289.1" font-size="15.3" text-anchor="end" font-family="'DejaVu Sans', sans-serif" >40</text>
<line x1="81.2" y1="1222.9" x2="86" y2="1222.9" stroke="#000" stroke-width="2.8" />
<text x="78" y="1228.8" font-size="15.3" text-anchor="end" font-family="'DejaVu Sans', sans-serif" >60</text>
<line x1="81.2" y1="1162.6" x2="86" y2="1162.6" stroke="#000" stroke-width="2.8" />
<text x="78" y="1168.5" font-size="15.3" text-anchor="end" font-family="'DejaVu Sans', sans-serif" >80</text>
<line x1="81.2" y1="1102.3" x2="86" y2="1102.3" stroke="#000" stroke-width="2.8" />
<text x="78" y="1108.2" font-size="15.3" text-anchor="end" font-family="'DejaVu Sans', sans-serif" >100</text>
<line x1="133.1" y1="1403.8" x2="133.1" y2="1408.6" stroke="#000" stroke-width="2.8" />
<text x="133.1" y="1423.4" font-size="15.3" text-anchor="middle" font-family="'DejaVu Sans', sans-serif" >2</text>
<line x1="205.2" y1="1403.8" x2="205.2" y2="1408.6" stroke="#000" stroke-width="2.8" />
<text x="205.2" y="1423.4" font-size="15.3" text-anchor="middle" font-family="'DejaVu Sans', sans-serif" >3</text>
<line x1="277.2" y1="1403.8" x2="277.2" y2="1408.6" stroke="#000" stroke-width="2.8" />
<text x="277.2" y="1423.4" font-size="15.3" text-anchor="middle" font-family="'DejaVu Sans', sans-serif" >4</text>
<line x1="349.3" y1="1403.8" x2="349.3" y2="1408.6" stroke="#000" stroke-width="2.8" />
<text x="349.3" y="1423.4" font-size="15.3" text-anchor="middle" font-family="'DejaVu Sans', sans-serif" >5</text>
<rect x="603.93" y="1303.49" width="11.49" height="101.71" fill="#6db381" />
<rect x="615.12" y="1339.78" width="11.49" height="65.42" fill="#f4b47e" />
<rect x="626.31" y="1330.82" width="11.49" height="74.38" fill="#2e6bae" />
<rect x="637.49" y="1273.17" width="11.49" height="132.03" fill="#c0602e" />
<rect x="648.68" y="1176.4" width="11.49" height="228.8" fill="#626668" />
<rect x="674.03" y="1159.22" width="11.49" height="245.98" fill="#6db381" />
<rect x="685.22" y="1158.77" width="11.49" height="246.43" fill="#f4b47e" />
<rect x="696.41" y="1185.36" width="11.49" height="219.84" fill="#2e6bae" />
<rect x="707.59" y="1174.01" width="11.49" height="231.19" fill="#c0602e" />
<rect x="718.78" y="1141.15" width="11.49" height="264.05" fill="#626668" />
<rect x="743.83" y="1150.11" width="11.49" height="255.09" fill="#6db381" />
<rect x="755.02" y="1135.77" width="11.49" height="269.43" fill="#f4b47e" />
<rect x="766.21" y="1148.92" width="11.49" height="256.28" fill="#2e6bae" />
<rect x="777.39" y="1143.09" width="11.49" height="262.11" fill="#c0602e" />
<rect x="788.58" y="1126.21" width="11.49" height="278.99" fill="#626668" />
<rect x="813.73" y="1143.09" width="11.49" height="262.11" fill="#6db381" />
<rect x="824.92" y="1130.4" width="11.49" height="274.8" fill="#f4b47e" />
<rect x="836.11" y="1145.03" width="11.49" height="260.17" fill="#2e6bae" />
<rect x="847.29" y="1139.95" width="11.49" height="265.25" fill="#c0602e" />
<rect x="858.48" y="1125.02" width="11.49" height="280.18" fill="#626668" />
<line x1="585.8" y1="1105.5" x2="585.8" y2="1406.6" stroke="#000" stroke-width="2.8" />
<line x1="584.4" y1="1405.2" x2="888.6" y2="1405.2" stroke="#000" stroke-width="2.8" />
<line x1="581" y1="1405.2" x2="585.8" y2="1405.2" stroke="#000" stroke-width="2.8" />
<text x="577.8" y="1411.1" font-size="15.3" text-anchor="end" font-family="'DejaVu Sans', sans-serif" >0</text>
<line x1="581" y1="1345.46" x2="585.8" y2="1345.46" stroke="#000" stroke-width="2.8" />
<text x="577.8" y="1351.36" font-size="15.3" text-anchor="end" font-family="'DejaVu Sans', sans-serif" >20</text>
<line x1="581" y1="1285.72" x2="585.8" y2="1285.72" stroke="#000" stroke-width="2.8" />
<text x="577.8" y="1291.62" font-size="15.3" text-anchor="end" font-family="'DejaVu Sans', sans-serif" >40</text>
<line x1="581" y1="1225.98" x2="585.8" y2="1225.98" stroke="#000" stroke-width="2.8" />
<text x="577.8" y="1231.88" font-size="15.3" text-anchor="end" font-family="'DejaVu Sans', sans-serif" >60</text>
<line x1="581" y1="1166.24" x2="585.8" y2="1166.24" stroke="#000" stroke-width="2.8" />
<text x="577.8" y="1172.14" font-size="15.3" text-anchor="end" font-family="'DejaVu Sans', sans-serif" >80</text>
<line x1="581" y1="1106.5" x2="585.8" y2="1106.5" stroke="#000" stroke-width="2.8" />
<text x="577.8" y="1112.4" font-size="15.3" text-anchor="end" font-family="'DejaVu Sans', sans-serif" >100</text>
<line x1="631.9" y1="1405.2" x2="631.9" y2="1410" stroke="#000" stroke-width="2.8" />
<text x="631.9" y="1424.8" font-size="15.3" text-anchor="middle" font-family="'DejaVu Sans', sans-serif" >2</text>
<line x1="702" y1="1405.2" x2="702" y2="1410" stroke="#000" stroke-width="2.8" />
<text x="702" y="1424.8" font-size="15.3" text-anchor="middle" font-family="'DejaVu Sans', sans-serif" >3</text>
<line x1="771.8" y1="1405.2" x2="771.8" y2="1410" stroke="#000" stroke-width="2.8" />
<text x="771.8" y="1424.8" font-size="15.3" text-anchor="middle" font-family="'DejaVu Sans', sans-serif" >4</text>
<line x1="841.7" y1="1405.2" x2="841.7" y2="1410" stroke="#000" stroke-width="2.8" />
<text x="841.7" y="1424.8" font-size="15.3" text-anchor="middle" font-family="'DejaVu Sans', sans-serif" >5</text>
<rect x="1079.88" y="1233.34" width="14.26" height="170.86" fill="#6db381" />
<rect x="1093.84" y="1309.21" width="14.26" height="94.99" fill="#f4b47e" />
<rect x="1107.8" y="1264.26" width="14.26" height="139.94" fill="#e8237c" />
<rect x="1121.76" y="1167.93" width="14.26" height="236.27" fill="#626668" />
<rect x="1149.78" y="1180.32" width="14.26" height="223.88" fill="#6db381" />
<rect x="1163.74" y="1185.25" width="14.26" height="218.95" fill="#f4b47e" />
<rect x="1177.7" y="1164.05" width="14.26" height="240.15" fill="#e8237c" />
<rect x="1191.66" y="1135.07" width="14.26" height="269.13" fill="#626668" />
<rect x="1219.48" y="1154.49" width="14.26" height="249.71" fill="#6db381" />
<rect x="1233.44" y="1180.17" width="14.26" height="224.03" fill="#f4b47e" />
<rect x="1247.4" y="1163.45" width="14.26" height="240.75" fill="#e8237c" />
<rect x="1261.36" y="1124.62" width="14.26" height="279.58" fill="#626668" />
<rect x="1289.28" y="1170.02" width="14.26" height="234.18" fill="#6db381" />
<rect x="1303.24" y="1167.93" width="14.26" height="236.27" fill="#f4b47e" />
<rect x="1317.2" y="1149.41" width="14.26" height="254.79" fill="#e8237c" />
<rect x="1331.16" y="1125.21" width="14.26" height="278.99" fill="#626668" />
<line x1="1062.4" y1="1104.5" x2="1062.4" y2="1405.6" stroke="#000" stroke-width="2.8" />
<line x1="1061" y1="1404.2" x2="1364.1" y2="1404.2" stroke="#000" stroke-width="2.8" />
<line x1="1057.6" y1="1404.2" x2="1062.4" y2="1404.2" stroke="#000" stroke-width="2.8" />
<text x="1054.4" y="1410.1" font-size="15.3" text-anchor="end" font-family="'DejaVu Sans', sans-serif" >0</text>
<line x1="1057.6" y1="1344.46" x2="1062.4" y2="1344.46" stroke="#000" stroke-width="2.8" />
<text x="1054.4" y="1350.36" font-size="15.3" text-anchor="end" font-family="'DejaVu Sans', sans-serif" >20</text>
<line x1="1057.6" y1="1284.72" x2="1062.4" y2="1284.72" stroke="#000" stroke-width="2.8" />
<text x="1054.4" y="1290.62" font-size="15.3" text-anchor="end" font-family="'DejaVu Sans', sans-serif" >40</text>
<line x1="1057.6" y1="1224.98" x2="1062.4" y2="1224.98" stroke="#000" stroke-width="2.8" />
<text x="1054.4" y="1230.88" font-size="15.3" text-anchor="end" font-family="'DejaVu Sans', sans-serif" >60</text>
<line x1="1057.6" y1="1165.24" x2="1062.4" y2="1165.24" stroke="#000" stroke-width="2.8" />
<text x="1054.4" y="1171.14" font-size="15.3" text-anchor="end" font-family="'DejaVu Sans', sans-serif" >80</text>
<line x1="1057.6" y1="1105.5" x2="1062.4" y2="1105.5" stroke="#000" stroke-width="2.8" />
<text x="1054.4" y="1111.4" font-size="15.3" text-anchor="end" font-family="'DejaVu Sans', sans-serif" >100</text>
<line x1="1107.8" y1="1404.2" x2="1107.8" y2="1409" stroke="#000" stroke-width="2.8" />
<text x="1107.8" y="1423.8" font-size="15.3" text-anchor="middle" font-family="'DejaVu Sans', sans-serif" >2</text>
<line x1="1177.7" y1="1404.2" x2="1177.7" y2="1409" stroke="#000" stroke-width="2.8" />
<text x="1177.7" y="1423.8" font-size="15.3" text-anchor="middle" font-family="'DejaVu Sans', sans-serif" >3</text>
<line x1="1247.4" y1="1404.2" x2="1247.4" y2="1409" stroke="#000" stroke-width="2.8" />
<text x="1247.4" y="1423.8" font-size="15.3" text-anchor="middle" font-family="'DejaVu Sans', sans-serif" >4</text>
<line x1="1317.2" y1="1404.2" x2="1317.2" y2="1409" stroke="#000" stroke-width="2.8" />
<text x="1317.2" y="1423.8" font-size="15.3" text-anchor="middle" font-family="'DejaVu Sans', sans-serif" >5</text>
<rect x="1572.79" y="1248.07" width="14.25" height="155.73" fill="#6db381" />
<rect x="1586.75" y="1352.09" width="14.25" height="51.71" fill="#f4b47e" />
<rect x="1600.7" y="1361.95" width="14.25" height="41.85" fill="#e8237c" />
<rect x="1614.65" y="1187.7" width="14.25" height="216.1" fill="#626668" />
<rect x="1642.59" y="1176.04" width="14.25" height="227.76" fill="#6db381" />
<rect x="1656.55" y="1158.1" width="14.25" height="245.7" fill="#f4b47e" />
<rect x="1670.5" y="1140.77" width="14.25" height="263.03" fill="#e8237c" />
<rect x="1684.45" y="1129.11" width="14.25" height="274.69" fill="#626668" />
<rect x="1712.29" y="1152.43" width="14.25" height="251.37" fill="#6db381" />
<rect x="1726.25" y="1175.14" width="14.25" height="228.66" fill="#f4b47e" />
<rect x="1740.2" y="1156.31" width="14.25" height="247.49" fill="#e8237c" />
<rect x="1754.15" y="1124.63" width="14.25" height="279.17" fill="#626668" />
<rect x="1782.09" y="1141.37" width="14.25" height="262.43" fill="#6db381" />
<rect x="1796.05" y="1147.94" width="14.25" height="255.86" fill="#f4b47e" />
<rect x="1810" y="1132.1" width="14.25" height="271.7" fill="#e8237c" />
<rect x="1823.95" y="1120.14" width="14.25" height="283.66" fill="#626668" />
<line x1="1554.8" y1="1104" x2="1554.8" y2="1405.2" stroke="#000" stroke-width="2.8" />
<line x1="1553.4" y1="1403.8" x2="1856.6" y2="1403.8" stroke="#000" stroke-width="2.8" />
<line x1="1550" y1="1403.8" x2="1554.8" y2="1403.8" stroke="#000" stroke-width="2.8" />
<text x="1546.8" y="1409.7" font-size="15.3" text-anchor="end" font-family="'DejaVu Sans', sans-serif" >0</text>
<line x1="1550" y1="1344.02" x2="1554.8" y2="1344.02" stroke="#000" stroke-width="2.8" />
<text x="1546.8" y="1349.92" font-size="15.3" text-anchor="end" font-family="'DejaVu Sans', sans-serif" >20</text>
<line x1="1550" y1="1284.24" x2="1554.8" y2="1284.24" stroke="#000" stroke-width="2.8" />
<text x="1546.8" y="1290.14" font-size="15.3" text-anchor="end" font-family="'DejaVu Sans', sans-serif" >40</text>
<line x1="1550" y1="1224.46" x2="1554.8" y2="1224.46" stroke="#000" stroke-width="2.8" />
<text x="1546.8" y="1230.36" font-size="15.3" text-anchor="end" font-family="'DejaVu Sans', sans-serif" >60</text>
<line x1="1550" y1="1164.68" x2="1554.8" y2="1164.68" stroke="#000" stroke-width="2.8" />
<text x="1546.8" y="1170.58" font-size="15.3" text-anchor="end" font-family="'DejaVu Sans', sans-serif" >80</text>
<line x1="1550" y1="1104.9" x2="1554.8" y2="1104.9" stroke="#000" stroke-width="2.8" />
<text x="1546.8" y="1110.8" font-size="15.3" text-anchor="end" font-family="'DejaVu Sans', sans-serif" >100</text>
<line x1="1600.7" y1="1403.8" x2="1600.7" y2="1408.6" stroke="#000" stroke-width="2.8" />
<text x="1600.7" y="1423.4" font-size="15.3" text-anchor="middle" font-family="'DejaVu Sans', sans-serif" >2</text>
<line x1="1670.5" y1="1403.8" x2="1670.5" y2="1408.6" stroke="#000" stroke-width="2.8" />
<text x="1670.5" y="1423.4" font-size="15.3" text-anchor="middle" font-family="'DejaVu Sans', sans-serif" >3</text>
<line x1="1740.2" y1="1403.8" x2="1740.2" y2="1408.6" stroke="#000" stroke-width="2.8" />
<text x="1740.2" y="1423.4" font-size="15.3" text-anchor="middle" font-family="'DejaVu Sans', sans-serif" >4</text>
<line x1="1810" y1="1403.8" x2="1810" y2="1408.6" stroke="#000" stroke-width="2.8" />
<text x="1810" y="1423.4" font-size="15.3" text-anchor="middle" font-family="'DejaVu Sans', sans-serif" >5</text>
<text x="241.8" y="1444" font-size="18.3" text-anchor="middle" font-family="'DejaVu Sans', sans-serif" textLength="269.5" lengthAdjust="spacingAndGlyphs" ># of training time points used</text>
<text x="737.4" y="1443.9" font-size="18.3" text-anchor="middle" font-family="'DejaVu Sans', sans-serif" textLength="270" lengthAdjust="spacingAndGlyphs" ># of training time points used</text>
<text x="1220.9" y="1444.3" font-size="18.3" text-anchor="middle" font-family="'DejaVu Sans', sans-serif" textLength="270" lengthAdjust="spacingAndGlyphs" ># of training time points used</text>
<text x="1706" y="1442.7" font-size="18.3" text-anchor="middle" font-family="'DejaVu Sans', sans-serif" textLength="270" lengthAdjust="spacingAndGlyphs" ># of training time points used</text>
<text x="0" y="0" font-size="19" font-family="'DejaVu Sans', sans-serif" text-anchor="middle" transform="translate(35.5 1245) rotate(-90)" textLength="170.9" lengthAdjust="spacingAndGlyphs">Avg. Recover Rate</text>
<rect x="424" y="1163.9" width="28.7" height="11" fill="#6db381" />
<text x="465.3" y="1174.4" font-size="14" font-family="'DejaVu Sans', sans-serif" >Day 2</text>
<rect x="424" y="1185" width="28.7" height="11" fill="#f4b47e" />
<text x="465.3" y="1195.5" font-size="14" font-family="'DejaVu Sans', sans-serif" >Day 5</text>
<rect x="424" y="1206.1" width="28.7" height="11" fill="#2e6bae" />
<text x="465.3" y="1216.6" font-size="14" font-family="'DejaVu Sans', sans-serif" >Day 8</text>
<rect x="424" y="1226.8" width="28.7" height="11" fill="#c0602e" />
<text x="465.3" y="1237.3" font-size="14" font-family="'DejaVu Sans', sans-serif" >Day 12</text>
<rect x="424" y="1247.4" width="28.7" height="11" fill="#626668" />
<text x="465.3" y="1257.9" font-size="14" font-family="'DejaVu Sans', sans-serif" >Day 15</text>
<rect x="908" y="1163.9" width="28.7" height="11" fill="#6db381" />
<text x="948.2" y="1174.4" font-size="14" font-family="'DejaVu Sans', sans-serif" >Day 2</text>
<rect x="908" y="1185" width="28.7" height="11" fill="#f4b47e" />
<text x="948.2" y="1195.5" font-size="14" font-family="'DejaVu Sans', sans-serif" >Day 5</text>
<rect x="908" y="1206.1" width="28.7" height="11" fill="#2e6bae" />
<text x="948.2" y="1216.6" font-size="14" font-family="'DejaVu Sans', sans-serif" >Day 8</text>
<rect x="908" y="1226.8" width="28.7" height="11" fill="#c0602e" />
<text x="948.2" y="1237.3" font-size="14" font-family="'DejaVu Sans', sans-serif" >Day 12</text>
<rect x="908" y="1247.4" width="28.7" height="11" fill="#626668" />
<text x="948.2" y="1257.9" font-size="14" font-family="'DejaVu Sans', sans-serif" >Day 15</text>
<rect x="1386.6" y="1164.1" width="28.7" height="11" fill="#6db381" />
<text x="1425.7" y="1174.6" font-size="14" font-family="'DejaVu Sans', sans-serif" >Day 1</text>
<rect x="1386.6" y="1184.7" width="28.7" height="11" fill="#f4b47e" />
<text x="1425.7" y="1195.2" font-size="14" font-family="'DejaVu Sans', sans-serif" >Day 3</text>
<rect x="1386.6" y="1205.8" width="28.7" height="11" fill="#e8237c" />
<text x="1425.7" y="1216.3" font-size="14" font-family="'DejaVu Sans', sans-serif" >Day 5</text>
<rect x="1386.6" y="1226.3" width="28.7" height="11" fill="#626668" />
<text x="1425.7" y="1236.8" font-size="14" font-family="'DejaVu Sans', sans-serif" >Day 7</text>
<rect x="1872" y="1164.1" width="28.7" height="11" fill="#6db381" />
<text x="1911.7" y="1174.6" font-size="14" font-family="'DejaVu Sans', sans-serif" >Day 1</text>
<rect x="1872" y="1184.7" width="28.7" height="11" fill="#f4b47e" />
<text x="1911.7" y="1195.2" font-size="14" font-family="'DejaVu Sans', sans-serif" >Day 3</text>
<rect x="1872" y="1205.8" width="28.7" height="11" fill="#e8237c" />
<text x="1911.7" y="1216.3" font-size="14" font-family="'DejaVu Sans', sans-serif" >Day 5</text>
<rect x="1872" y="1226.3" width="28.7" height="11" fill="#626668" />
<text x="1911.7" y="1236.8" font-size="14" font-family="'DejaVu Sans', sans-serif" >Day 7</text>
<text x="420" y="1333.2" font-size="14.2" font-family="'DejaVu Sans', sans-serif" textLength="111.5" lengthAdjust="spacingAndGlyphs"><tspan font-style="italic">Mean</tspan><tspan font-size="10" dy="2.5">2</tspan><tspan dy="-2.5"> = 51.537</tspan></text>
<text x="420" y="1349" font-size="14.2" font-family="'DejaVu Sans', sans-serif" textLength="111.5" lengthAdjust="spacingAndGlyphs"><tspan font-style="italic">Mean</tspan><tspan font-size="10" dy="2.5">3</tspan><tspan dy="-2.5"> = 95.496</tspan></text>
<text x="420" y="1364.8" font-size="14.2" font-family="'DejaVu Sans', sans-serif" textLength="111.5" lengthAdjust="spacingAndGlyphs"><tspan font-style="italic">Mean</tspan><tspan font-size="10" dy="2.5">4</tspan><tspan dy="-2.5"> = 96.123</tspan></text>
<text x="420" y="1380.6" font-size="14.2" font-family="'DejaVu Sans', sans-serif" textLength="111.5" lengthAdjust="spacingAndGlyphs"><tspan font-style="italic">Mean</tspan><tspan font-size="10" dy="2.5">5</tspan><tspan dy="-2.5"> = 96.288</tspan></text>
<text x="902.9" y="1333.2" font-size="14.2" font-family="'DejaVu Sans', sans-serif" textLength="111.5" lengthAdjust="spacingAndGlyphs"><tspan font-style="italic">Mean</tspan><tspan font-size="10" dy="2.5">2</tspan><tspan dy="-2.5"> = 40.362</tspan></text>
<text x="902.9" y="1349" font-size="14.2" font-family="'DejaVu Sans', sans-serif" textLength="111.5" lengthAdjust="spacingAndGlyphs"><tspan font-style="italic">Mean</tspan><tspan font-size="10" dy="2.5">3</tspan><tspan dy="-2.5"> = 80.888</tspan></text>
<text x="902.9" y="1364.8" font-size="14.2" font-family="'DejaVu Sans', sans-serif" textLength="111.5" lengthAdjust="spacingAndGlyphs"><tspan font-style="italic">Mean</tspan><tspan font-size="10" dy="2.5">4</tspan><tspan dy="-2.5"> = 88.533</tspan></text>
<text x="902.9" y="1380.6" font-size="14.2" font-family="'DejaVu Sans', sans-serif" textLength="111.5" lengthAdjust="spacingAndGlyphs"><tspan font-style="italic">Mean</tspan><tspan font-size="10" dy="2.5">5</tspan><tspan dy="-2.5"> = 89.935</tspan></text>
<text x="1381.6" y="1333.2" font-size="14.2" font-family="'DejaVu Sans', sans-serif" textLength="111.5" lengthAdjust="spacingAndGlyphs"><tspan font-style="italic">Mean</tspan><tspan font-size="10" dy="2.5">2</tspan><tspan dy="-2.5"> = 53.865</tspan></text>
<text x="1381.6" y="1349" font-size="14.2" font-family="'DejaVu Sans', sans-serif" textLength="111.5" lengthAdjust="spacingAndGlyphs"><tspan font-style="italic">Mean</tspan><tspan font-size="10" dy="2.5">3</tspan><tspan dy="-2.5"> = 79.829</tspan></text>
<text x="1381.6" y="1364.8" font-size="14.2" font-family="'DejaVu Sans', sans-serif" textLength="111.5" lengthAdjust="spacingAndGlyphs"><tspan font-style="italic">Mean</tspan><tspan font-size="10" dy="2.5">4</tspan><tspan dy="-2.5"> = 83.354</tspan></text>
<text x="1381.6" y="1380.6" font-size="14.2" font-family="'DejaVu Sans', sans-serif" textLength="111.5" lengthAdjust="spacingAndGlyphs"><tspan font-style="italic">Mean</tspan><tspan font-size="10" dy="2.5">5</tspan><tspan dy="-2.5"> = 84.280</tspan></text>
<text x="1867" y="1333.2" font-size="14.2" font-family="'DejaVu Sans', sans-serif" textLength="111.5" lengthAdjust="spacingAndGlyphs"><tspan font-style="italic">Mean</tspan><tspan font-size="10" dy="2.5">2</tspan><tspan dy="-2.5"> = 30.347</tspan></text>
<text x="1867" y="1349" font-size="14.2" font-family="'DejaVu Sans', sans-serif" textLength="111.5" lengthAdjust="spacingAndGlyphs"><tspan font-style="italic">Mean</tspan><tspan font-size="10" dy="2.5">3</tspan><tspan dy="-2.5"> = 84.694</tspan></text>
<text x="1867" y="1364.8" font-size="14.2" font-family="'DejaVu Sans', sans-serif" textLength="111.5" lengthAdjust="spacingAndGlyphs"><tspan font-style="italic">Mean</tspan><tspan font-size="10" dy="2.5">4</tspan><tspan dy="-2.5"> = 84.310</tspan></text>
<text x="1867" y="1380.6" font-size="14.2" font-family="'DejaVu Sans', sans-serif" textLength="111.5" lengthAdjust="spacingAndGlyphs"><tspan font-style="italic">Mean</tspan><tspan font-size="10" dy="2.5">5</tspan><tspan dy="-2.5"> = 89.951</tspan></text>
<defs><clipPath id="c86"><rect x="86.3" y="1450.6" width="923.04" height="289.8"/></clipPath></defs>
<g clip-path="url(#c86)">
<path d="M 105.1 1509.67 L 123.73 1512.14 L 142.36 1512.76 L 160.99 1510.91 L 179.62 1515.85 L 198.25 1515.24 L 216.88 1525.13 L 235.51 1521.42 L 254.14 1512.76 L 272.77 1539.98 L 291.4 1536.26 L 310.03 1528.22 L 328.66 1551.73 L 347.29 1556.68 L 365.92 1545.54 L 384.55 1554.82 L 403.18 1560.39 L 421.81 1558.53 L 440.44 1530.08 L 459.07 1545.54 L 477.7 1617.29 L 496.33 1627.18 L 514.96 1569.05 L 533.59 1572.76 L 552.22 1566.57 L 570.85 1562.86 L 589.48 1573.38 L 608.11 1567.81 L 626.74 1670.48 L 645.37 1645.12 L 664 1601.83 L 682.63 1567.19 L 701.26 1659.96 L 719.89 1732.95 L 738.52 1582.65 L 757.15 1698.31 L 775.78 1620.38 L 794.41 1623.47 L 813.04 1629.66 L 831.67 1718.72 L 850.3 1615.43 L 868.93 1596.26 L 887.56 1684.09 L 906.19 1683.47 L 924.82 1665.53 L 943.45 1661.82 L 962.08 1668.62 L 980.71 1726.14" fill="none" stroke="#6db381" stroke-width="3.2" stroke-dasharray="11.8 5.1" stroke-linejoin="round"/>
<path d="M 105.1 1506.58 L 123.73 1507.81 L 142.36 1509.05 L 160.99 1507.81 L 179.62 1512.14 L 198.25 1515.24 L 216.88 1518.33 L 235.51 1518.95 L 254.14 1514 L 272.77 1533.17 L 291.4 1530.08 L 310.03 1531.32 L 328.66 1546.78 L 347.29 1542.45 L 365.92 1536.26 L 384.55 1542.45 L 403.18 1548.63 L 421.81 1548.63 L 440.44 1561 L 459.07 1557.91 L 477.7 1581.42 L 496.33 1595.64 L 514.96 1561 L 533.59 1554.82 L 552.22 1559.77 L 570.85 1562.86 L 589.48 1564.1 L 608.11 1564.72 L 626.74 1646.98 L 645.37 1623.47 L 664 1592.55 L 682.63 1557.91 L 701.26 1579.56 L 719.89 1673.57 L 738.52 1595.64 L 757.15 1677.9 L 775.78 1582.65 L 794.41 1620.38 L 813.04 1603.06 L 831.67 1668.62 L 850.3 1609.25 L 868.93 1615.43 L 887.56 1632.75 L 906.19 1667.39 L 924.82 1637.7 L 943.45 1679.76 L 962.08 1625.33 L 980.71 1687.18" fill="none" stroke="#f4b47e" stroke-width="3.2" stroke-dasharray="11.8 5.1" stroke-linejoin="round"/>
<path d="M 105.1 1507.81 L 123.73 1510.91 L 142.36 1510.91 L 160.99 1512.14 L 179.62 1513.38 L 198.25 1516.47 L 216.88 1522.04 L 235.51 1522.04 L 254.14 1516.47 L 272.77 1525.75 L 291.4 1526.99 L 310.03 1522.66 L 328.66 1554.82 L 347.29 1531.32 L 365.92 1530.08 L 384.55 1539.36 L 403.18 1539.36 L 421.81 1539.36 L 440.44 1565.95 L 459.07 1559.77 L 477.7 1562.86 L 496.33 1573.38 L 514.96 1559.77 L 533.59 1550.49 L 552.22 1561 L 570.85 1558.53 L 589.48 1558.53 L 608.11 1559.77 L 626.74 1621 L 645.37 1612.34 L 664 1579.56 L 682.63 1573.38 L 701.26 1573.38 L 719.89 1633.37 L 738.52 1587.6 L 757.15 1643.88 L 775.78 1565.95 L 794.41 1604.92 L 813.04 1611.1 L 831.67 1640.79 L 850.3 1609.25 L 868.93 1612.34 L 887.56 1620.38 L 906.19 1679.76 L 924.82 1604.92 L 943.45 1659.35 L 962.08 1608.01 L 980.71 1659.35" fill="none" stroke="#2e6bae" stroke-width="3.2" stroke-dasharray="11.8 5.1" stroke-linejoin="round"/>
<path d="M 105.1 1504.1 L 123.73 1503.48 L 142.36 1503.48 L 160.99 1504.72 L 179.62 1510.29 L 198.25 1513.38 L 216.88 1515.85 L 235.51 1516.47 L 254.14 1516.47 L 272.77 1522.04 L 291.4 1518.33 L 310.03 1528.22 L 328.66 1559.77 L 347.29 1520.8 L 365.92 1528.84 L 384.55 1526.99 L 403.18 1551.73 L 421.81 1525.13 L 440.44 1556.68 L 459.07 1551.73 L 477.7 1543.69 L 496.33 1556.68 L 514.96 1554.2 L 533.59 1554.82 L 552.22 1557.91 L 570.85 1556.68 L 589.48 1578.32 L 608.11 1559.77 L 626.74 1592.55 L 645.37 1598.73 L 664 1549.25 L 682.63 1584.51 L 701.26 1579.56 L 719.89 1590.69 L 738.52 1588.84 L 757.15 1611.1 L 775.78 1549.87 L 794.41 1621.62 L 813.04 1637.7 L 831.67 1661.2 L 850.3 1609.25 L 868.93 1609.25 L 887.56 1623.47 L 906.19 1667.39 L 924.82 1603.06 L 943.45 1615.43 L 962.08 1603.06 L 980.71 1635.84" fill="none" stroke="#c0602e" stroke-width="3.2" stroke-dasharray="11.8 5.1" stroke-linejoin="round"/>
<path d="M 105.1 1496.68 L 123.73 1496.37 L 142.36 1495.44 L 160.99 1499.46 L 179.62 1504.1 L 198.25 1507.81 L 216.88 1512.14 L 235.51 1507.81 L 254.14 1515.24 L 272.77 1525.13 L 291.4 1520.8 L 310.03 1542.45 L 328.66 1566.57 L 347.29 1515.24 L 365.92 1541.83 L 384.55 1526.99 L 403.18 1556.68 L 421.81 1530.08 L 440.44 1537.5 L 459.07 1546.78 L 477.7 1537.5 L 496.33 1570.28 L 514.96 1567.81 L 533.59 1564.72 L 552.22 1581.42 L 570.85 1576.47 L 589.48 1606.16 L 608.11 1567.81 L 626.74 1595.64 L 645.37 1606.16 L 664 1572.14 L 682.63 1603.06 L 701.26 1604.92 L 719.89 1591.93 L 738.52 1598.73 L 757.15 1609.25 L 775.78 1587.6 L 794.41 1650.07 L 813.04 1668.62 L 831.67 1712.54 L 850.3 1598.73 L 868.93 1635.84 L 887.56 1654.4 L 906.19 1645.12 L 924.82 1598.73 L 943.45 1621.62 L 962.08 1617.29 L 980.71 1646.98" fill="none" stroke="#626668" stroke-width="3.2" stroke-dasharray="11.8 5.1" stroke-linejoin="round"/>
</g>
<line x1="86.3" y1="1479.6" x2="86.3" y2="1741.8" stroke="#000" stroke-width="2.8" />
<line x1="84.9" y1="1740.4" x2="999.34" y2="1740.4" stroke="#000" stroke-width="2.8" />
<line x1="81.5" y1="1728" x2="86.3" y2="1728" stroke="#000" stroke-width="3" />
<text x="78.8" y="1735.9" font-size="19.2" text-anchor="end" font-family="'DejaVu Sans', sans-serif" >60</text>
<line x1="81.5" y1="1604.3" x2="86.3" y2="1604.3" stroke="#000" stroke-width="3" />
<text x="78.8" y="1612.2" font-size="19.2" text-anchor="end" font-family="'DejaVu Sans', sans-serif" >80</text>
<line x1="81.5" y1="1480.6" x2="86.3" y2="1480.6" stroke="#000" stroke-width="3" />
<text x="78.8" y="1488.5" font-size="19.2" text-anchor="end" font-family="'DejaVu Sans', sans-serif" >100</text>
<line x1="105.1" y1="1740.4" x2="105.1" y2="1745" stroke="#000" stroke-width="3" />
<text x="105.1" y="1763.3" font-size="19.2" text-anchor="middle" font-family="'DejaVu Sans', sans-serif" >0</text>
<line x1="254.14" y1="1740.4" x2="254.14" y2="1745" stroke="#000" stroke-width="3" />
<text x="254.14" y="1763.3" font-size="19.2" text-anchor="middle" font-family="'DejaVu Sans', sans-serif" >8</text>
<line x1="403.18" y1="1740.4" x2="403.18" y2="1745" stroke="#000" stroke-width="3" />
<text x="403.18" y="1763.3" font-size="19.2" text-anchor="middle" font-family="'DejaVu Sans', sans-serif" >16</text>
<line x1="552.22" y1="1740.4" x2="552.22" y2="1745" stroke="#000" stroke-width="3" />
<text x="552.22" y="1763.3" font-size="19.2" text-anchor="middle" font-family="'DejaVu Sans', sans-serif" >24</text>
<line x1="701.26" y1="1740.4" x2="701.26" y2="1745" stroke="#000" stroke-width="3" />
<text x="701.26" y="1763.3" font-size="19.2" text-anchor="middle" font-family="'DejaVu Sans', sans-serif" >32</text>
<line x1="850.3" y1="1740.4" x2="850.3" y2="1745" stroke="#000" stroke-width="3" />
<text x="850.3" y="1763.3" font-size="19.2" text-anchor="middle" font-family="'DejaVu Sans', sans-serif" >40</text>
<line x1="999.34" y1="1740.4" x2="999.34" y2="1745" stroke="#000" stroke-width="3" />
<text x="999.34" y="1763.3" font-size="19.2" text-anchor="middle" font-family="'DejaVu Sans', sans-serif" >48</text>
<defs><clipPath id="c1064"><rect x="1064.3" y="1453.6" width="923.32" height="290"/></clipPath></defs>
<g clip-path="url(#c1064)">
<path d="M 1082.9 1551.66 L 1101.54 1542.56 L 1120.18 1544.72 L 1138.82 1544.72 L 1157.46 1530.85 L 1176.1 1538.22 L 1194.74 1548.62 L 1213.38 1537.79 L 1232.02 1543.86 L 1250.66 1545.59 L 1269.3 1546.46 L 1287.94 1526.95 L 1306.58 1539.95 L 1325.22 1544.72 L 1343.86 1551.66 L 1362.5 1549.49 L 1381.14 1557.29 L 1399.78 1558.16 L 1418.42 1556.43 L 1437.06 1550.36 L 1455.7 1562.5 L 1474.34 1548.62 L 1492.98 1559.46 L 1511.62 1589.37 L 1530.26 1548.62 L 1548.9 1572.03 L 1567.54 1550.79 L 1586.18 1547.76 L 1604.82 1576.8 L 1623.46 1545.59 L 1642.1 1606.28 L 1660.74 1567.27 L 1679.38 1548.62 L 1698.02 1563.36 L 1716.66 1539.52 L 1735.3 1582.87 L 1753.94 1578.97 L 1772.58 1589.37 L 1791.22 1573.33 L 1809.86 1557.73 L 1828.5 1563.8 L 1847.14 1571.17 L 1865.78 1559.9 L 1884.42 1566.4 L 1903.06 1547.32 L 1921.7 1604.55 L 1940.34 1600.21 L 1958.98 1614.08" fill="none" stroke="#6db381" stroke-width="3.2" stroke-dasharray="11.8 5.1" stroke-linejoin="round"/>
<path d="M 1082.9 1583.74 L 1101.54 1565.96 L 1120.18 1572.03 L 1138.82 1569 L 1157.46 1557.73 L 1176.1 1557.29 L 1194.74 1572.9 L 1213.38 1563.36 L 1232.02 1557.73 L 1250.66 1578.1 L 1269.3 1574.2 L 1287.94 1546.46 L 1306.58 1561.2 L 1325.22 1563.36 L 1343.86 1575.94 L 1362.5 1567.27 L 1381.14 1577.67 L 1399.78 1590.67 L 1418.42 1595.44 L 1437.06 1570.3 L 1455.7 1591.54 L 1474.34 1592.41 L 1492.98 1569 L 1511.62 1611.05 L 1530.26 1576.8 L 1548.9 1603.25 L 1567.54 1589.37 L 1586.18 1576.8 L 1604.82 1606.28 L 1623.46 1635.76 L 1642.1 1689.08 L 1660.74 1585.91 L 1679.38 1610.18 L 1698.02 1576.8 L 1716.66 1600.21 L 1735.3 1687.34 L 1753.94 1609.75 L 1772.58 1650.93 L 1791.22 1647.9 L 1809.86 1628.82 L 1828.5 1602.81 L 1847.14 1616.25 L 1865.78 1592.41 L 1884.42 1597.18 L 1903.06 1581.57 L 1921.7 1666.97 L 1940.34 1673.91 L 1958.98 1917.1" fill="none" stroke="#f4b47e" stroke-width="3.2" stroke-dasharray="11.8 5.1" stroke-linejoin="round"/>
<path d="M 1082.9 1557.29 L 1101.54 1545.59 L 1120.18 1546.89 L 1138.82 1552.53 L 1157.46 1539.09 L 1176.1 1539.95 L 1194.74 1549.49 L 1213.38 1544.72 L 1232.02 1551.66 L 1250.66 1554.26 L 1269.3 1561.2 L 1287.94 1528.25 L 1306.58 1554.69 L 1325.22 1548.62 L 1343.86 1566.4 L 1362.5 1554.69 L 1381.14 1563.8 L 1399.78 1575.07 L 1418.42 1578.97 L 1437.06 1557.29 L 1455.7 1559.46 L 1474.34 1567.27 L 1492.98 1557.29 L 1511.62 1581.57 L 1530.26 1575.07 L 1548.9 1581.57 L 1567.54 1571.17 L 1586.18 1579.84 L 1604.82 1582.87 L 1623.46 1606.28 L 1642.1 1608.01 L 1660.74 1571.17 L 1679.38 1578.97 L 1698.02 1579.84 L 1716.66 1598.91 L 1735.3 1654.4 L 1753.94 1581.57 L 1772.58 1601.95 L 1791.22 1662.2 L 1809.86 1632.29 L 1828.5 1586.34 L 1847.14 1617.98 L 1865.78 1609.75 L 1884.42 1608.45 L 1903.06 1573.33 L 1921.7 1613.22 L 1940.34 1624.05 L 1958.98 1696.88" fill="none" stroke="#e8237c" stroke-width="3.2" stroke-dasharray="11.8 5.1" stroke-linejoin="round"/>
<path d="M 1082.9 1511.34 L 1101.54 1507.01 L 1120.18 1509.61 L 1138.82 1511.34 L 1157.46 1505.71 L 1176.1 1505.71 L 1194.74 1517.41 L 1213.38 1513.51 L 1232.02 1515.25 L 1250.66 1515.68 L 1269.3 1531.28 L 1287.94 1515.25 L 1306.58 1517.41 L 1325.22 1521.31 L 1343.86 1540.82 L 1362.5 1522.18 L 1381.14 1523.05 L 1399.78 1533.89 L 1418.42 1554.69 L 1437.06 1529.98 L 1455.7 1526.95 L 1474.34 1559.46 L 1492.98 1537.79 L 1511.62 1551.66 L 1530.26 1558.16 L 1548.9 1544.72 L 1567.54 1544.72 L 1586.18 1545.59 L 1604.82 1565.1 L 1623.46 1546.89 L 1642.1 1562.5 L 1660.74 1563.36 L 1679.38 1562.93 L 1698.02 1555.99 L 1716.66 1587.64 L 1735.3 1575.07 L 1753.94 1560.76 L 1772.58 1587.64 L 1791.22 1620.15 L 1809.86 1570.3 L 1828.5 1569.43 L 1847.14 1586.77 L 1865.78 1595.88 L 1884.42 1597.18 L 1903.06 1571.17 L 1921.7 1598.04 L 1940.34 1598.04 L 1958.98 1604.98" fill="none" stroke="#626668" stroke-width="3.2" stroke-dasharray="11.8 5.1" stroke-linejoin="round"/>
</g>
<line x1="1064.3" y1="1482.6" x2="1064.3" y2="1745" stroke="#000" stroke-width="2.8" />
<line x1="1062.9" y1="1743.6" x2="1977.62" y2="1743.6" stroke="#000" stroke-width="2.8" />
<line x1="1059.5" y1="1743.7" x2="1064.3" y2="1743.7" stroke="#000" stroke-width="3" />
<text x="1056.8" y="1751.6" font-size="19.2" text-anchor="end" font-family="'DejaVu Sans', sans-serif" >40</text>
<line x1="1059.5" y1="1657" x2="1064.3" y2="1657" stroke="#000" stroke-width="3" />
<text x="1056.8" y="1664.9" font-size="19.2" text-anchor="end" font-family="'DejaVu Sans', sans-serif" >60</text>
<line x1="1059.5" y1="1570.3" x2="1064.3" y2="1570.3" stroke="#000" stroke-width="3" />
<text x="1056.8" y="1578.2" font-size="19.2" text-anchor="end" font-family="'DejaVu Sans', sans-serif" >80</text>
<line x1="1059.5" y1="1483.6" x2="1064.3" y2="1483.6" stroke="#000" stroke-width="3" />
<text x="1056.8" y="1491.5" font-size="19.2" text-anchor="end" font-family="'DejaVu Sans', sans-serif" >100</text>
<line x1="1082.9" y1="1743.6" x2="1082.9" y2="1748.2" stroke="#000" stroke-width="3" />
<text x="1082.9" y="1766.5" font-size="19.2" text-anchor="middle" font-family="'DejaVu Sans', sans-serif" >0</text>
<line x1="1232.02" y1="1743.6" x2="1232.02" y2="1748.2" stroke="#000" stroke-width="3" />
<text x="1232.02" y="1766.5" font-size="19.2" text-anchor="middle" font-family="'DejaVu Sans', sans-serif" >8</text>
<line x1="1381.14" y1="1743.6" x2="1381.14" y2="1748.2" stroke="#000" stroke-width="3" />
<text x="1381.14" y="1766.5" font-size="19.2" text-anchor="middle" font-family="'DejaVu Sans', sans-serif" >16</text>
<line x1="1530.26" y1="1743.6" x2="1530.26" y2="1748.2" stroke="#000" stroke-width="3" />
<text x="1530.26" y="1766.5" font-size="19.2" text-anchor="middle" font-family="'DejaVu Sans', sans-serif" >24</text>
<line x1="1679.38" y1="1743.6" x2="1679.38" y2="1748.2" stroke="#000" stroke-width="3" />
<text x="1679.38" y="1766.5" font-size="19.2" text-anchor="middle" font-family="'DejaVu Sans', sans-serif" >32</text>
<line x1="1828.5" y1="1743.6" x2="1828.5" y2="1748.2" stroke="#000" stroke-width="3" />
<text x="1828.5" y="1766.5" font-size="19.2" text-anchor="middle" font-family="'DejaVu Sans', sans-serif" >40</text>
<line x1="1977.62" y1="1743.6" x2="1977.62" y2="1748.2" stroke="#000" stroke-width="3" />
<text x="1977.62" y="1766.5" font-size="19.2" text-anchor="middle" font-family="'DejaVu Sans', sans-serif" >48</text>
<text x="477.9" y="1497.1" font-size="26.6" textLength="512.1" lengthAdjust="spacingAndGlyphs" >(iii) constant mode in the presence of noise</text>
<text x="1444.3" y="1497.1" font-size="26.6" textLength="510.6" lengthAdjust="spacingAndGlyphs" >(iii) dynamic mode in the presence of noise</text>
<text x="0" y="0" font-size="18.5" font-family="'DejaVu Sans', sans-serif" text-anchor="middle" transform="translate(35.2 1610.9) rotate(-90)" textLength="171" lengthAdjust="spacingAndGlyphs">Avg. Recover Rate</text>
<text x="543.6" y="1787" font-size="21.4" text-anchor="middle" font-family="'DejaVu Sans', sans-serif" textLength="118.5" lengthAdjust="spacingAndGlyphs" >Noise level</text>
<text x="1520.9" y="1788" font-size="21.3" text-anchor="middle" font-family="'DejaVu Sans', sans-serif" textLength="118" lengthAdjust="spacingAndGlyphs" >Noise level</text>
<line x1="114.4" y1="1622.2" x2="145.4" y2="1622.2" stroke="#6db381" stroke-width="3.2" stroke-dasharray="12.3 6.2"/>
<text x="158" y="1627.6" font-size="15.3" font-family="'DejaVu Sans', sans-serif" >Day 2</text>
<line x1="114.4" y1="1644.3" x2="145.4" y2="1644.3" stroke="#f4b47e" stroke-width="3.2" stroke-dasharray="12.3 6.2"/>
<text x="158" y="1649.7" font-size="15.3" font-family="'DejaVu Sans', sans-serif" >Day 5</text>
<line x1="114.4" y1="1666.7" x2="145.4" y2="1666.7" stroke="#2e6bae" stroke-width="3.2" stroke-dasharray="12.3 6.2"/>
<text x="158" y="1672.1" font-size="15.3" font-family="'DejaVu Sans', sans-serif" >Day 8</text>
<line x1="114.4" y1="1688.8" x2="145.4" y2="1688.8" stroke="#c0602e" stroke-width="3.2" stroke-dasharray="12.3 6.2"/>
<text x="158" y="1694.2" font-size="15.3" font-family="'DejaVu Sans', sans-serif" >Day 12</text>
<line x1="114.4" y1="1711" x2="145.4" y2="1711" stroke="#626668" stroke-width="3.2" stroke-dasharray="12.3 6.2"/>
<text x="158" y="1716.4" font-size="15.3" font-family="'DejaVu Sans', sans-serif" >Day 15</text>
<line x1="1085.4" y1="1633.2" x2="1116.5" y2="1633.2" stroke="#6db381" stroke-width="3.2" stroke-dasharray="12.3 6.2"/>
<text x="1129" y="1638.6" font-size="15.3" font-family="'DejaVu Sans', sans-serif" >Day 1</text>
<line x1="1085.4" y1="1655.3" x2="1116.5" y2="1655.3" stroke="#f4b47e" stroke-width="3.2" stroke-dasharray="12.3 6.2"/>
<text x="1129" y="1660.7" font-size="15.3" font-family="'DejaVu Sans', sans-serif" >Day 3</text>
<line x1="1085.4" y1="1677.4" x2="1116.5" y2="1677.4" stroke="#e8237c" stroke-width="3.2" stroke-dasharray="12.3 6.2"/>
<text x="1129" y="1682.8" font-size="15.3" font-family="'DejaVu Sans', sans-serif" >Day 5</text>
<line x1="1085.4" y1="1700" x2="1116.5" y2="1700" stroke="#626668" stroke-width="3.2" stroke-dasharray="12.3 6.2"/>
<text x="1129" y="1705.4" font-size="15.3" font-family="'DejaVu Sans', sans-serif" >Day 7</text>
</svg></body></html>
